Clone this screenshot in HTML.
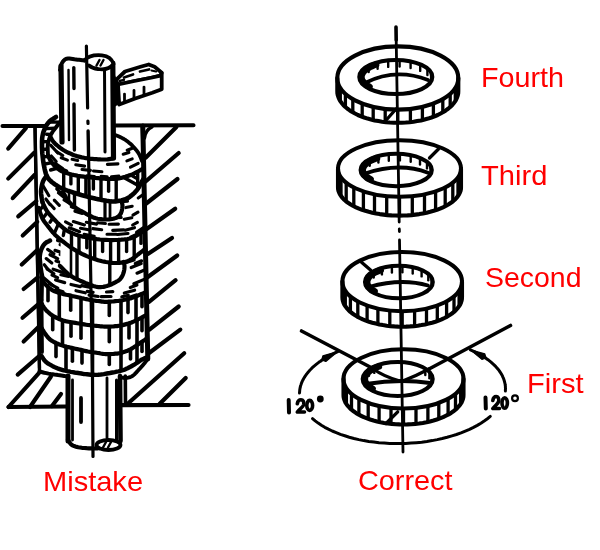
<!DOCTYPE html>
<html><head><meta charset="utf-8"><style>
html,body{margin:0;padding:0;background:#fff;}
body{width:600px;height:550px;overflow:hidden;position:relative;font-family:"Liberation Sans",sans-serif;}
.t{position:absolute;color:#ff0000;font-size:28px;line-height:1;white-space:nowrap;transform-origin:0 0;filter:blur(0.25px);}
svg{position:absolute;left:0;top:0;filter:blur(0.4px);}
</style></head><body>
<svg width="600" height="550" viewBox="0 0 600 550" stroke-linecap="round" stroke-linejoin="round">
<line x1="2.5" y1="126.0" x2="48.0" y2="126.0" stroke="#000" stroke-width="4.10"/>
<line x1="110.0" y1="125.5" x2="193.5" y2="125.2" stroke="#000" stroke-width="4.10"/>
<line x1="35.0" y1="126.0" x2="39.5" y2="368.0" stroke="#000" stroke-width="3.20"/>
<line x1="142.5" y1="126.0" x2="147.8" y2="359.0" stroke="#000" stroke-width="3.60"/>
<line x1="8.2" y1="148.6" x2="25.9" y2="128.2" stroke="#000" stroke-width="4.10"/>
<line x1="8.2" y1="178.6" x2="34.2" y2="152.7" stroke="#000" stroke-width="4.10"/>
<line x1="12.7" y1="198.2" x2="34.5" y2="175.0" stroke="#000" stroke-width="4.10"/>
<line x1="18.2" y1="216.4" x2="36.4" y2="201.0" stroke="#000" stroke-width="4.10"/>
<line x1="22.7" y1="235.5" x2="37.3" y2="221.8" stroke="#000" stroke-width="4.10"/>
<line x1="21.8" y1="264.5" x2="37.3" y2="250.0" stroke="#000" stroke-width="4.10"/>
<line x1="23.6" y1="289.0" x2="37.8" y2="277.3" stroke="#000" stroke-width="4.10"/>
<line x1="22.5" y1="317.8" x2="39.0" y2="303.6" stroke="#000" stroke-width="4.10"/>
<line x1="23.6" y1="341.5" x2="39.5" y2="326.0" stroke="#000" stroke-width="4.10"/>
<line x1="17.7" y1="374.6" x2="39.5" y2="355.7" stroke="#000" stroke-width="4.10"/>
<path d="M144.5,138 Q145.5,130 152,127" fill="none" stroke="#000" stroke-width="3.4"/>
<line x1="145.6" y1="157.8" x2="176.4" y2="127.1" stroke="#000" stroke-width="4.20"/>
<line x1="145.6" y1="181.5" x2="178.7" y2="153.0" stroke="#000" stroke-width="4.20"/>
<line x1="145.6" y1="204.0" x2="177.5" y2="179.0" stroke="#000" stroke-width="4.20"/>
<line x1="147.0" y1="228.7" x2="175.2" y2="208.7" stroke="#000" stroke-width="4.20"/>
<line x1="147.8" y1="254.0" x2="172.0" y2="238.0" stroke="#000" stroke-width="4.20"/>
<line x1="147.8" y1="277.0" x2="177.2" y2="255.5" stroke="#000" stroke-width="4.20"/>
<line x1="149.0" y1="301.8" x2="175.6" y2="280.2" stroke="#000" stroke-width="4.20"/>
<line x1="149.4" y1="329.6" x2="178.7" y2="306.5" stroke="#000" stroke-width="4.20"/>
<line x1="149.4" y1="352.8" x2="180.3" y2="329.6" stroke="#000" stroke-width="4.20"/>
<line x1="128.5" y1="403.0" x2="184.2" y2="353.2" stroke="#000" stroke-width="4.20"/>
<line x1="159.5" y1="404.0" x2="185.7" y2="378.0" stroke="#000" stroke-width="4.20"/>
<line x1="8.5" y1="407.0" x2="40.0" y2="371.8" stroke="#000" stroke-width="4.10"/>
<line x1="30.0" y1="407.0" x2="51.0" y2="376.5" stroke="#000" stroke-width="4.10"/>
<line x1="52.0" y1="406.0" x2="61.0" y2="394.0" stroke="#000" stroke-width="4.10"/>
<line x1="8.5" y1="407.0" x2="66.0" y2="406.5" stroke="#000" stroke-width="4.10"/>
<line x1="121.0" y1="405.2" x2="188.5" y2="405.0" stroke="#000" stroke-width="4.20"/>
<path d="M61.0,64.0 L63.0,61.0 L67.0,58.7 L84.5,60.4 L112.0,62.0 L113.0,160.0 L61.5,160.0 Z" fill="#fff" stroke="none"/>
<path d="M56.0,117.0 L55.2,117.5 L54.0,118.2 L52.6,119.1 L51.2,120.0 L50.0,121.0 L49.0,122.0 L48.0,123.1 L47.1,124.3 L46.3,125.6 L45.5,127.0 L44.8,128.6 L44.1,130.4 L43.4,132.2 L42.9,134.1 L42.5,136.0 L42.2,137.9 L42.1,139.8 L42.0,141.7 L42.0,143.6 L42.0,145.5 L42.0,147.4 L42.1,149.3 L42.2,151.3 L42.3,153.2 L42.5,155.0 L42.7,156.8 L42.9,158.5 L43.1,160.2 L43.3,161.9 L43.6,163.6 L43.9,165.4 L44.3,167.3 L44.7,169.2 L45.1,170.9 L45.5,172.5 L45.9,173.8 L46.4,175.0 L46.8,176.0 L47.4,177.0 L48.0,178.0 L48.7,179.0 L49.5,179.9 L50.4,180.7 L51.3,181.6 L52.4,182.5 L53.6,183.4 L54.9,184.4 L56.3,185.3 L57.7,186.2 L59.0,187.0 L60.2,187.6 L61.3,188.2 L62.4,188.7 L63.4,189.1 L64.4,189.5 L65.3,189.8 L66.0,190.1 L66.8,190.4 L67.6,190.7 L68.7,191.0 L70.0,191.4 L71.5,191.9 L73.1,192.5 L74.7,193.0 L76.4,193.5 L78.0,194.0 L79.7,194.5 L81.3,195.0 L83.1,195.5 L85.0,196.0 L87.1,196.6 L89.3,197.2 L91.6,197.7 L93.9,198.3 L96.0,198.8 L98.0,199.2 L99.8,199.6 L101.6,199.9 L103.4,200.2 L105.0,200.5 L106.5,200.8 L108.0,201.0 L109.4,201.2 L110.7,201.4 L112.0,201.5 L113.2,201.5 L114.4,201.5 L115.5,201.4 L116.7,201.2 L118.0,201.0 L119.5,200.7 L121.2,200.4 L122.8,200.0 L124.5,199.6 L126.0,199.0 L127.3,198.3 L128.6,197.6 L129.8,196.8 L130.9,195.9 L132.0,195.0 L133.1,194.1 L134.2,193.1 L135.2,192.0 L136.1,191.0 L137.0,190.0 L137.7,189.0 L138.3,188.0 L138.9,187.1 L139.4,186.1 L140.0,185.0 L140.7,183.8 L141.5,182.4 L142.3,181.0 L143.0,179.8 L143.5,179.0 L146.0,179.0 L147.8,359.0 L147.8,357.0 L147.0,357.3 L145.9,357.7 L144.6,358.3 L143.3,358.9 L142.0,359.5 L140.8,360.2 L139.7,361.0 L138.5,361.8 L137.3,362.7 L136.0,363.5 L134.7,364.3 L133.3,365.1 L131.8,366.0 L130.4,366.8 L129.0,367.5 L127.6,368.2 L126.3,368.8 L125.0,369.4 L123.6,370.0 L122.0,370.5 L120.3,371.0 L118.6,371.4 L116.8,371.7 L114.8,372.1 L112.5,372.5 L109.9,373.0 L106.9,373.5 L103.8,374.1 L100.8,374.5 L98.0,374.8 L95.5,374.9 L93.2,374.8 L90.9,374.7 L88.9,374.5 L87.0,374.3 L85.4,374.1 L84.0,374.0 L82.8,373.8 L81.5,373.5 L80.0,373.3 L78.3,373.0 L76.4,372.8 L74.5,372.5 L72.6,372.1 L70.7,371.8 L68.9,371.4 L67.1,371.1 L65.4,370.7 L63.7,370.3 L62.0,369.8 L60.4,369.3 L58.9,368.8 L57.4,368.3 L56.0,367.7 L54.4,367.0 L52.7,366.2 L50.9,365.2 L49.1,364.2 L47.4,363.1 L46.0,362.0 L44.8,360.8 L43.7,359.4 L42.8,358.0 L42.0,356.8 L41.5,356.0 L41.5,356.0 L40.0,300.0 L42.0,276.0 L41.9,275.2 L41.7,274.0 L41.4,272.7 L41.2,271.3 L41.0,270.0 L40.8,268.8 L40.6,267.7 L40.5,266.5 L40.3,265.3 L40.2,264.0 L40.1,262.5 L39.9,260.9 L39.8,259.2 L39.7,257.6 L39.8,256.0 L40.0,254.5 L40.2,253.1 L40.6,251.6 L41.0,250.3 L41.5,249.0 L42.1,247.8 L42.7,246.6 L43.4,245.4 L44.2,244.4 L45.0,243.5 L46.0,242.7 L47.1,242.0 L48.3,241.4 L49.3,240.9 L50.0,240.5 L38.5,208.0 L42.5,202.3 L42.2,200.8 L41.8,198.7 L41.4,196.2 L41.1,193.7 L41.0,191.4 L41.2,189.3 L41.5,187.2 L41.9,185.1 L42.4,183.2 L43.0,181.5 L43.7,180.0 L44.5,178.7 L45.3,177.6 L46.0,176.7 L46.5,176.0 Z" fill="#fff" stroke="none"/>
<path d="M61.0,119.0 L61.0,120.5 L57.0,126.0 L52.5,132.0 L49.5,138.0 L47.8,145.0 L48.0,155.6 L48.3,156.3 L48.7,157.2 L49.3,158.3 L49.9,159.4 L50.5,160.5 L51.2,161.5 L51.9,162.6 L52.6,163.7 L53.5,164.7 L54.5,165.8 L55.6,166.9 L56.9,168.0 L58.3,169.1 L59.7,170.1 L61.2,171.0 L62.7,171.7 L64.3,172.3 L65.9,172.9 L67.5,173.3 L69.0,173.8 L70.4,174.2 L71.8,174.6 L73.2,174.9 L74.6,175.2 L76.0,175.5 L77.5,175.8 L78.9,176.0 L80.4,176.3 L82.0,176.5 L83.6,176.7 L85.3,176.9 L87.2,177.1 L89.1,177.3 L90.9,177.4 L92.5,177.6 L93.8,177.7 L94.9,177.9 L95.9,178.0 L97.0,178.1 L98.2,178.2 L99.7,178.3 L101.3,178.5 L102.9,178.6 L104.5,178.7 L106.0,178.8 L107.2,178.9 L108.3,179.0 L109.3,179.0 L110.4,179.0 L111.7,179.0 L113.3,178.9 L115.1,178.8 L117.1,178.6 L119.1,178.3 L121.0,178.0 L123.0,177.5 L125.1,176.9 L127.1,176.3 L129.1,175.6 L130.8,175.0 L132.3,174.4 L133.5,173.8 L134.7,173.2 L135.8,172.6 L137.0,172.0 L138.3,171.3 L139.7,170.5 L141.0,169.7 L142.2,169.0 L143.0,168.5 L143.0,161.0 L142.0,161.0 L141.6,160.0 L141.1,158.7 L140.5,157.1 L139.7,155.4 L139.0,154.0 L138.2,152.7 L137.3,151.5 L136.4,150.2 L135.4,149.1 L134.5,148.0 L133.6,147.0 L132.7,146.1 L131.9,145.2 L131.0,144.3 L130.0,143.5 L129.0,142.7 L128.0,141.8 L126.9,141.0 L125.8,140.2 L124.7,139.5 L123.6,138.8 L122.4,138.2 L121.3,137.6 L120.1,137.0 L119.0,136.5 L117.8,136.0 L116.5,135.5 L115.3,135.1 L114.2,134.8 L113.5,134.5 L113.5,134.5 L113.0,158.5 L113.0,158.5 L112.1,158.7 L110.7,158.9 L109.2,159.1 L107.6,159.4 L106.0,159.5 L104.5,159.5 L103.1,159.5 L101.5,159.5 L99.9,159.4 L98.2,159.3 L96.3,159.2 L94.3,159.1 L92.2,158.9 L90.1,158.8 L88.0,158.5 L85.9,158.2 L83.9,157.8 L81.8,157.4 L79.8,156.9 L77.8,156.4 L75.9,155.8 L74.1,155.2 L72.3,154.5 L70.6,153.7 L69.0,153.0 L67.5,152.3 L66.0,151.6 L64.6,150.8 L63.3,150.0 L61.8,149.0 L61.8,149.0 Z" fill="#fff" stroke="none"/>
<line x1="50.6" y1="145.1" x2="57.8" y2="153.0" stroke="#000" stroke-width="3.10"/>
<line x1="127.2" y1="150.2" x2="133.5" y2="147.7" stroke="#000" stroke-width="3.10"/>
<line x1="56.8" y1="151.7" x2="62.8" y2="155.5" stroke="#000" stroke-width="3.10"/>
<line x1="123.2" y1="154.2" x2="128.9" y2="152.4" stroke="#000" stroke-width="3.10"/>
<line x1="51.3" y1="155.9" x2="56.2" y2="161.6" stroke="#000" stroke-width="3.10"/>
<line x1="61.2" y1="157.8" x2="67.4" y2="160.1" stroke="#000" stroke-width="3.10"/>
<line x1="72.1" y1="159.3" x2="77.7" y2="160.5" stroke="#000" stroke-width="3.10"/>
<line x1="126.9" y1="160.9" x2="132.2" y2="158.9" stroke="#000" stroke-width="3.10"/>
<line x1="55.2" y1="163.3" x2="62.7" y2="168.5" stroke="#000" stroke-width="3.10"/>
<line x1="75.8" y1="164.7" x2="84.6" y2="166.1" stroke="#000" stroke-width="3.10"/>
<line x1="107.4" y1="164.4" x2="117.9" y2="163.9" stroke="#000" stroke-width="3.10"/>
<line x1="130.5" y1="167.2" x2="138.2" y2="163.4" stroke="#000" stroke-width="3.10"/>
<line x1="60.3" y1="168.3" x2="66.7" y2="170.9" stroke="#000" stroke-width="3.10"/>
<line x1="82.0" y1="169.5" x2="90.4" y2="170.4" stroke="#000" stroke-width="3.10"/>
<line x1="93.5" y1="171.0" x2="101.9" y2="171.8" stroke="#000" stroke-width="3.10"/>
<line x1="75.4" y1="175.0" x2="83.2" y2="176.3" stroke="#000" stroke-width="3.10"/>
<line x1="87.1" y1="175.8" x2="94.4" y2="176.5" stroke="#000" stroke-width="3.10"/>
<line x1="101.1" y1="176.3" x2="107.2" y2="176.7" stroke="#000" stroke-width="3.10"/>
<line x1="111.4" y1="176.7" x2="118.9" y2="176.1" stroke="#000" stroke-width="3.10"/>
<line x1="119.8" y1="178.0" x2="130.7" y2="174.7" stroke="#000" stroke-width="3.10"/>
<path d="M56.0,117.0 L55.2,117.5 L54.0,118.2 L52.6,119.1 L51.2,120.0 L50.0,121.0 L49.0,122.0 L48.0,123.1 L47.1,124.3 L46.3,125.6 L45.5,127.0 L44.8,128.6 L44.1,130.4 L43.4,132.2 L42.9,134.1 L42.5,136.0 L42.2,137.9 L42.1,139.8 L42.0,141.7 L42.0,143.6 L42.0,145.5 L42.0,147.4 L42.1,149.3 L42.2,151.3 L42.3,153.2 L42.5,155.0 L42.7,156.8 L42.9,158.5 L43.1,160.2 L43.3,161.9 L43.6,163.6 L43.9,165.4 L44.3,167.3 L44.7,169.2 L45.1,170.9 L45.5,172.5 L45.9,173.8 L46.4,175.0 L46.8,176.0 L47.4,177.0 L48.0,178.0 L48.7,179.0 L49.5,179.9 L50.4,180.7 L51.3,181.6 L52.4,182.5 L53.6,183.4 L54.9,184.4 L56.3,185.3 L57.7,186.2 L59.0,187.0 L60.2,187.6 L61.3,188.2 L62.4,188.7 L63.4,189.1 L64.4,189.5 L65.3,189.8 L66.0,190.1 L66.8,190.4 L67.6,190.7 L68.7,191.0 L70.0,191.4 L71.5,191.9 L73.1,192.5 L74.7,193.0 L76.4,193.5 L78.0,194.0 L79.7,194.5 L81.3,195.0 L83.1,195.5 L85.0,196.0 L87.1,196.6 L89.3,197.2 L91.6,197.7 L93.9,198.3 L96.0,198.8 L98.0,199.2 L99.8,199.6 L101.6,199.9 L103.4,200.2 L105.0,200.5 L106.5,200.8 L108.0,201.0 L109.4,201.2 L110.7,201.4 L112.0,201.5 L113.2,201.5 L114.4,201.5 L115.5,201.4 L116.7,201.2 L118.0,201.0 L119.5,200.7 L121.2,200.4 L122.8,200.0 L124.5,199.6 L126.0,199.0 L127.3,198.3 L128.6,197.6 L129.8,196.8 L130.9,195.9 L132.0,195.0 L133.1,194.1 L134.2,193.1 L135.2,192.0 L136.1,191.0 L137.0,190.0 L137.7,189.0 L138.3,188.0 L138.9,187.1 L139.4,186.1 L140.0,185.0 L140.7,183.8 L141.5,182.4 L142.3,181.0 L143.0,179.8 L143.5,179.0 L143.5,179.0 L143.0,168.5 L142.2,169.0 L141.0,169.7 L139.7,170.5 L138.3,171.3 L137.0,172.0 L135.8,172.6 L134.7,173.2 L133.5,173.8 L132.3,174.4 L130.8,175.0 L129.1,175.6 L127.1,176.3 L125.1,176.9 L123.0,177.5 L121.0,178.0 L119.1,178.3 L117.1,178.6 L115.1,178.8 L113.3,178.9 L111.7,179.0 L110.4,179.0 L109.3,179.0 L108.3,179.0 L107.2,178.9 L106.0,178.8 L104.5,178.7 L102.9,178.6 L101.3,178.5 L99.7,178.3 L98.2,178.2 L97.0,178.1 L95.9,178.0 L94.9,177.9 L93.8,177.7 L92.5,177.6 L90.9,177.4 L89.1,177.3 L87.2,177.1 L85.3,176.9 L83.6,176.7 L82.0,176.5 L80.4,176.3 L78.9,176.0 L77.5,175.8 L76.0,175.5 L74.6,175.2 L73.2,174.9 L71.8,174.6 L70.4,174.2 L69.0,173.8 L67.5,173.3 L65.9,172.9 L64.3,172.3 L62.7,171.7 L61.2,171.0 L59.7,170.1 L58.3,169.1 L56.9,168.0 L55.6,166.9 L54.5,165.8 L53.5,164.7 L52.6,163.7 L51.9,162.6 L51.2,161.5 L50.5,160.5 L49.9,159.4 L49.3,158.3 L48.7,157.2 L48.3,156.3 L48.0,155.6 L48.0,155.6 L47.8,145.0 L49.5,138.0 L52.5,132.0 L57.0,126.0 L61.0,120.5 Z" fill="#fff" stroke="none"/>
<line x1="58.6" y1="122.1" x2="50.2" y2="122.0" stroke="#000" stroke-width="3.40"/>
<line x1="54.1" y1="128.3" x2="46.0" y2="128.6" stroke="#000" stroke-width="3.40"/>
<line x1="49.9" y1="134.5" x2="46.6" y2="134.3" stroke="#000" stroke-width="3.40"/>
<line x1="47.2" y1="141.6" x2="43.2" y2="141.7" stroke="#000" stroke-width="3.40"/>
<line x1="46.5" y1="149.2" x2="44.6" y2="149.3" stroke="#000" stroke-width="3.40"/>
<line x1="47.0" y1="156.5" x2="43.9" y2="156.9" stroke="#000" stroke-width="3.40"/>
<line x1="50.8" y1="162.9" x2="44.9" y2="164.0" stroke="#000" stroke-width="3.40"/>
<line x1="56.0" y1="168.5" x2="50.6" y2="170.0" stroke="#000" stroke-width="3.40"/>
<line x1="63.7" y1="173.3" x2="63.7" y2="188.0" stroke="#000" stroke-width="3.40"/>
<line x1="70.9" y1="175.5" x2="70.9" y2="183.9" stroke="#000" stroke-width="3.40"/>
<line x1="78.3" y1="177.1" x2="78.3" y2="192.9" stroke="#000" stroke-width="3.40"/>
<line x1="85.9" y1="178.2" x2="85.9" y2="195.0" stroke="#000" stroke-width="3.40"/>
<line x1="93.4" y1="178.9" x2="93.4" y2="189.0" stroke="#000" stroke-width="3.40"/>
<line x1="101.0" y1="179.6" x2="101.0" y2="198.6" stroke="#000" stroke-width="3.40"/>
<line x1="108.6" y1="180.2" x2="108.6" y2="191.2" stroke="#000" stroke-width="3.40"/>
<line x1="116.2" y1="179.9" x2="116.2" y2="200.1" stroke="#000" stroke-width="3.40"/>
<line x1="124.7" y1="177.9" x2="138.3" y2="185.5" stroke="#000" stroke-width="3.40"/>
<line x1="131.9" y1="175.6" x2="137.0" y2="178.6" stroke="#000" stroke-width="3.40"/>
<line x1="137.7" y1="172.8" x2="137.7" y2="187.9" stroke="#000" stroke-width="3.40"/>
<path d="M46.5,176.0 L46.0,176.7 L45.3,177.6 L44.5,178.7 L43.7,180.0 L43.0,181.5 L42.4,183.2 L41.9,185.1 L41.5,187.2 L41.2,189.3 L41.0,191.4 L41.1,193.7 L41.4,196.2 L41.8,198.7 L42.2,200.8 L42.5,202.3 L43.1,203.5 L43.8,205.2 L44.8,207.2 L45.8,209.2 L46.9,211.0 L48.1,212.6 L49.4,214.2 L50.8,215.7 L52.2,217.2 L53.5,218.6 L54.8,220.0 L56.1,221.4 L57.3,222.7 L58.6,223.9 L60.0,225.2 L61.4,226.4 L62.9,227.7 L64.4,228.8 L65.9,230.0 L67.6,231.0 L69.4,231.9 L71.3,232.8 L73.3,233.6 L75.2,234.4 L77.0,235.0 L78.6,235.5 L80.0,235.9 L81.4,236.3 L83.0,236.6 L85.0,237.0 L87.6,237.5 L90.5,238.1 L93.7,238.6 L96.9,239.1 L100.0,239.5 L103.0,239.8 L106.0,239.9 L109.0,240.0 L112.0,240.1 L115.0,240.0 L118.1,239.9 L121.3,239.7 L124.4,239.4 L127.4,239.0 L130.0,238.5 L132.2,237.8 L134.2,236.9 L135.9,235.9 L137.5,234.9 L139.0,234.0 L140.4,233.1 L141.7,232.2 L142.9,231.3 L143.8,230.5 L144.5,230.0 L144.5,230.0 L143.5,179.0 L143.5,179.0 L143.0,179.8 L142.3,181.0 L141.5,182.4 L140.7,183.8 L140.0,185.0 L139.4,186.1 L138.9,187.1 L138.3,188.0 L137.7,189.0 L137.0,190.0 L136.1,191.0 L135.2,192.0 L134.2,193.1 L133.1,194.1 L132.0,195.0 L130.9,195.9 L129.8,196.8 L128.6,197.6 L127.3,198.3 L126.0,199.0 L124.5,199.6 L122.8,200.0 L121.2,200.4 L119.5,200.7 L118.0,201.0 L116.7,201.2 L115.5,201.4 L114.4,201.5 L113.2,201.5 L112.0,201.5 L110.7,201.4 L109.4,201.2 L108.0,201.0 L106.5,200.8 L105.0,200.5 L103.4,200.2 L101.6,199.9 L99.8,199.6 L98.0,199.2 L96.0,198.8 L93.9,198.3 L91.6,197.7 L89.3,197.2 L87.1,196.6 L85.0,196.0 L83.1,195.5 L81.3,195.0 L79.7,194.5 L78.0,194.0 L76.4,193.5 L74.7,193.0 L73.1,192.5 L71.5,191.9 L70.0,191.4 L68.7,191.0 L67.6,190.7 L66.8,190.4 L66.0,190.1 L65.3,189.8 L64.4,189.5 L63.4,189.1 L62.4,188.7 L61.3,188.2 L60.2,187.6 L59.0,187.0 L57.7,186.2 L56.3,185.3 L54.9,184.4 L53.6,183.4 L52.4,182.5 L51.3,181.6 L50.4,180.7 L49.5,179.9 L48.7,179.0 L48.0,178.0 L47.4,177.0 L46.8,176.0 L46.4,175.0 L45.9,173.8 L45.5,172.5 Z" fill="#fff" stroke="none"/>
<line x1="43.2" y1="186.0" x2="48.9" y2="195.7" stroke="#000" stroke-width="3.10"/>
<line x1="56.7" y1="189.0" x2="61.0" y2="193.1" stroke="#000" stroke-width="3.10"/>
<line x1="58.4" y1="192.9" x2="67.5" y2="200.2" stroke="#000" stroke-width="3.10"/>
<line x1="138.2" y1="198.0" x2="142.9" y2="194.8" stroke="#000" stroke-width="3.10"/>
<line x1="45.9" y1="199.0" x2="49.9" y2="204.5" stroke="#000" stroke-width="3.10"/>
<line x1="54.3" y1="200.2" x2="59.3" y2="205.3" stroke="#000" stroke-width="3.10"/>
<line x1="64.0" y1="200.0" x2="70.5" y2="203.9" stroke="#000" stroke-width="3.10"/>
<line x1="96.2" y1="201.0" x2="104.0" y2="201.8" stroke="#000" stroke-width="3.10"/>
<line x1="109.8" y1="202.5" x2="116.7" y2="202.4" stroke="#000" stroke-width="3.10"/>
<line x1="117.9" y1="202.0" x2="127.5" y2="201.1" stroke="#000" stroke-width="3.10"/>
<line x1="50.4" y1="204.5" x2="54.2" y2="208.6" stroke="#000" stroke-width="3.10"/>
<line x1="71.3" y1="206.7" x2="79.6" y2="209.7" stroke="#000" stroke-width="3.10"/>
<line x1="92.3" y1="205.9" x2="101.6" y2="207.2" stroke="#000" stroke-width="3.10"/>
<line x1="125.9" y1="207.6" x2="132.2" y2="206.2" stroke="#000" stroke-width="3.10"/>
<line x1="74.9" y1="211.2" x2="82.3" y2="213.4" stroke="#000" stroke-width="3.10"/>
<line x1="132.9" y1="215.1" x2="138.0" y2="212.2" stroke="#000" stroke-width="3.10"/>
<line x1="93.0" y1="217.7" x2="99.9" y2="218.6" stroke="#000" stroke-width="3.10"/>
<line x1="102.9" y1="219.2" x2="108.4" y2="219.5" stroke="#000" stroke-width="3.10"/>
<line x1="113.7" y1="217.9" x2="121.2" y2="217.5" stroke="#000" stroke-width="3.10"/>
<line x1="124.3" y1="219.2" x2="131.8" y2="217.7" stroke="#000" stroke-width="3.10"/>
<line x1="65.5" y1="221.8" x2="71.6" y2="225.1" stroke="#000" stroke-width="3.10"/>
<line x1="73.3" y1="221.6" x2="84.5" y2="224.9" stroke="#000" stroke-width="3.10"/>
<line x1="86.3" y1="222.3" x2="96.6" y2="224.1" stroke="#000" stroke-width="3.10"/>
<line x1="97.6" y1="222.8" x2="105.4" y2="223.5" stroke="#000" stroke-width="3.10"/>
<line x1="109.1" y1="224.3" x2="118.4" y2="224.1" stroke="#000" stroke-width="3.10"/>
<line x1="132.6" y1="225.0" x2="137.4" y2="222.4" stroke="#000" stroke-width="3.10"/>
<line x1="69.2" y1="227.8" x2="79.6" y2="231.7" stroke="#000" stroke-width="3.10"/>
<line x1="80.5" y1="228.2" x2="90.0" y2="230.1" stroke="#000" stroke-width="3.10"/>
<line x1="92.9" y1="228.6" x2="101.7" y2="229.8" stroke="#000" stroke-width="3.10"/>
<line x1="112.7" y1="230.4" x2="123.6" y2="229.9" stroke="#000" stroke-width="3.10"/>
<line x1="125.2" y1="230.2" x2="134.5" y2="227.7" stroke="#000" stroke-width="3.10"/>
<line x1="136.5" y1="232.2" x2="143.9" y2="227.2" stroke="#000" stroke-width="3.10"/>
<line x1="84.1" y1="234.3" x2="94.2" y2="236.2" stroke="#000" stroke-width="3.10"/>
<line x1="107.0" y1="234.3" x2="116.4" y2="234.2" stroke="#000" stroke-width="3.10"/>
<line x1="117.6" y1="234.5" x2="128.0" y2="233.5" stroke="#000" stroke-width="3.10"/>
<line x1="130.6" y1="237.2" x2="136.4" y2="234.5" stroke="#000" stroke-width="3.10"/>
<path d="M61.3,188.2 L62.4,188.7 L63.4,189.1 L64.4,189.5 L65.3,189.8 L66.0,190.1 L66.8,190.4 L67.6,190.7 L68.7,191.0 L70.0,191.4 L71.5,191.9 L73.1,192.5 L74.7,193.0 L76.4,193.5 L78.0,194.0 L79.7,194.5 L81.3,195.0 L83.1,195.5 L85.0,196.0 L87.1,196.6 L89.3,197.2 L91.6,197.7 L93.9,198.3 L96.0,198.8 L98.0,199.2 L99.8,199.6 L101.6,199.9 L103.4,200.2 L105.0,200.5 L106.5,200.8 L108.0,201.0 L109.4,201.2 L110.7,201.4 L112.0,201.5 L113.2,201.5 L114.4,201.5 L115.5,201.4 L116.7,201.2 L118.0,201.0 L119.5,200.7 L121.2,200.4 L121.5,201.0 L121.7,201.6 L121.9,202.5 L122.2,203.6 L122.4,204.8 L122.5,206.0 L122.4,207.3 L122.2,208.8 L121.9,210.3 L121.5,211.8 L121.0,213.0 L120.5,214.0 L119.8,214.9 L119.1,215.7 L118.4,216.4 L117.5,217.0 L116.6,217.6 L115.6,218.0 L114.5,218.4 L113.3,218.7 L112.0,219.0 L110.6,219.2 L109.0,219.4 L107.3,219.5 L105.6,219.5 L104.0,219.5 L102.4,219.4 L100.8,219.2 L99.2,219.0 L97.6,218.7 L96.0,218.3 L94.4,217.8 L92.8,217.1 L91.3,216.4 L89.8,215.7 L88.4,215.0 L87.2,214.4 L86.1,213.8 L85.1,213.2 L84.1,212.6 L83.0,212.0 L81.9,211.4 L80.8,210.8 L79.7,210.3 L78.6,209.7 L77.5,209.0 L76.4,208.3 L75.3,207.6 L74.2,206.8 L73.1,205.9 L72.0,205.0 L71.0,203.9 L69.9,202.8 L68.9,201.6 L67.9,200.3 L67.0,199.0 L66.1,197.6 L65.1,195.9 L64.3,194.3 L63.5,193.0 L63.0,192.0 Z" fill="#fff" stroke="none"/>
<line x1="69.0" y1="191.1" x2="69.0" y2="201.7" stroke="#000" stroke-width="2.60"/>
<line x1="74.5" y1="192.9" x2="74.5" y2="207.0" stroke="#000" stroke-width="3.40"/>
<line x1="105.0" y1="200.5" x2="105.0" y2="219.5" stroke="#000" stroke-width="3.20"/>
<line x1="110.0" y1="201.3" x2="110.0" y2="219.3" stroke="#000" stroke-width="2.80"/>
<path d="M42.5,202.3 L43.1,203.5 L43.8,205.2 L44.8,207.2 L45.8,209.2 L46.9,211.0 L48.1,212.6 L49.4,214.2 L50.8,215.7 L52.2,217.2 L53.5,218.6 L54.8,220.0 L56.1,221.4 L57.3,222.7 L58.6,223.9 L60.0,225.2 L61.4,226.4 L62.9,227.7 L64.4,228.8 L65.9,230.0 L67.6,231.0 L69.4,231.9 L71.3,232.8 L73.3,233.6 L75.2,234.4 L77.0,235.0 L78.6,235.5 L80.0,235.9 L81.4,236.3 L83.0,236.6 L85.0,237.0 L87.6,237.5 L90.5,238.1 L93.7,238.6 L96.9,239.1 L100.0,239.5 L103.0,239.8 L106.0,239.9 L109.0,240.0 L112.0,240.1 L115.0,240.0 L118.1,239.9 L121.3,239.7 L124.4,239.4 L127.4,239.0 L130.0,238.5 L132.2,237.8 L134.2,236.9 L135.9,235.9 L137.5,234.9 L139.0,234.0 L140.4,233.1 L141.7,232.2 L142.9,231.3 L143.8,230.5 L144.5,230.0 L145.0,248.0 L145.0,249.0 L144.0,249.8 L142.7,250.9 L141.1,252.1 L139.4,253.4 L138.0,254.5 L136.8,255.5 L135.6,256.4 L134.4,257.4 L133.2,258.2 L132.0,259.0 L130.7,259.7 L129.4,260.4 L128.1,261.0 L126.6,261.6 L125.0,262.0 L123.2,262.4 L121.2,262.6 L119.1,262.8 L117.0,263.0 L115.0,263.0 L113.2,263.0 L111.4,262.8 L109.6,262.6 L107.8,262.3 L106.0,262.0 L104.1,261.6 L102.1,261.2 L100.2,260.7 L98.1,260.2 L96.0,259.5 L93.8,258.8 L91.5,258.0 L89.2,257.1 L86.8,256.1 L84.4,255.0 L81.8,253.8 L79.2,252.4 L76.5,250.9 L73.9,249.4 L71.6,248.0 L69.6,246.6 L67.7,245.2 L66.0,243.9 L64.4,242.6 L63.0,241.5 L61.8,240.6 L60.8,239.8 L59.9,239.1 L59.0,238.4 L58.0,237.5 L56.9,236.5 L55.8,235.5 L54.7,234.4 L53.6,233.2 L52.5,232.0 L51.4,230.7 L50.3,229.3 L49.1,227.8 L48.0,226.4 L47.0,225.0 L46.0,223.7 L45.1,222.6 L44.2,221.4 L43.4,220.1 L42.5,218.6 L41.6,216.6 L40.7,214.2 L39.8,211.7 L39.0,209.5 L38.5,208.0 Z" fill="#fff" stroke="none"/>
<line x1="43.0" y1="206.0" x2="40.2" y2="209.8" stroke="#000" stroke-width="3.40"/>
<line x1="46.9" y1="213.0" x2="43.3" y2="217.8" stroke="#000" stroke-width="3.40"/>
<line x1="52.2" y1="219.0" x2="50.0" y2="222.2" stroke="#000" stroke-width="3.40"/>
<line x1="58.0" y1="224.9" x2="54.6" y2="232.6" stroke="#000" stroke-width="3.40"/>
<line x1="64.3" y1="230.1" x2="63.3" y2="235.5" stroke="#000" stroke-width="3.40"/>
<line x1="71.5" y1="234.1" x2="71.5" y2="246.7" stroke="#000" stroke-width="3.40"/>
<line x1="79.0" y1="236.8" x2="79.0" y2="251.1" stroke="#000" stroke-width="3.40"/>
<line x1="86.8" y1="238.6" x2="86.8" y2="247.7" stroke="#000" stroke-width="3.40"/>
<line x1="94.7" y1="240.0" x2="94.7" y2="257.9" stroke="#000" stroke-width="3.40"/>
<line x1="102.6" y1="240.9" x2="102.6" y2="251.6" stroke="#000" stroke-width="3.40"/>
<line x1="110.6" y1="241.3" x2="110.6" y2="261.5" stroke="#000" stroke-width="3.40"/>
<line x1="118.6" y1="241.0" x2="118.6" y2="261.7" stroke="#000" stroke-width="3.40"/>
<line x1="126.6" y1="240.3" x2="126.6" y2="251.5" stroke="#000" stroke-width="3.40"/>
<line x1="134.2" y1="238.1" x2="134.2" y2="256.3" stroke="#000" stroke-width="3.40"/>
<line x1="141.0" y1="233.9" x2="141.0" y2="243.4" stroke="#000" stroke-width="3.40"/>
<path d="M50.0,240.5 L49.3,240.9 L48.3,241.4 L47.1,242.0 L46.0,242.7 L45.0,243.5 L44.2,244.4 L43.4,245.4 L42.7,246.6 L42.1,247.8 L41.5,249.0 L41.0,250.3 L40.6,251.6 L40.2,253.1 L40.0,254.5 L39.8,256.0 L39.7,257.6 L39.8,259.2 L39.9,260.9 L40.1,262.5 L40.2,264.0 L40.3,265.3 L40.5,266.5 L40.6,267.7 L40.8,268.8 L41.0,270.0 L41.2,271.3 L41.4,272.7 L41.7,274.0 L41.9,275.2 L42.0,276.0 L42.2,276.9 L42.5,278.2 L42.9,279.7 L43.4,281.2 L44.0,282.5 L44.8,283.6 L45.7,284.7 L46.6,285.7 L47.7,286.6 L48.7,287.5 L49.7,288.3 L50.7,289.1 L51.7,289.7 L52.8,290.4 L54.0,291.0 L55.3,291.6 L56.7,292.1 L58.1,292.6 L59.6,293.1 L61.0,293.5 L62.3,293.8 L63.5,294.1 L64.8,294.4 L66.2,294.7 L67.8,295.0 L69.8,295.4 L72.1,296.0 L74.5,296.5 L76.8,297.0 L79.0,297.5 L80.9,297.9 L82.7,298.4 L84.4,298.8 L86.2,299.1 L88.0,299.5 L90.0,299.8 L92.1,300.2 L94.2,300.5 L96.2,300.8 L98.0,301.0 L99.5,301.2 L100.8,301.4 L101.9,301.6 L103.1,301.7 L104.4,301.8 L105.8,301.8 L107.3,301.8 L108.8,301.7 L110.4,301.6 L112.0,301.5 L113.7,301.4 L115.4,301.2 L117.1,301.0 L118.9,300.8 L120.7,300.5 L122.6,300.2 L124.5,299.8 L126.4,299.4 L128.3,298.9 L130.0,298.5 L131.5,298.1 L132.9,297.6 L134.2,297.1 L135.5,296.6 L137.0,296.0 L138.8,295.2 L140.9,294.3 L143.0,293.4 L144.7,292.6 L146.0,292.0 L146.0,292.0 L145.0,248.0 L145.0,249.0 L144.0,249.8 L142.7,250.9 L141.1,252.1 L139.4,253.4 L138.0,254.5 L136.8,255.5 L135.6,256.4 L134.4,257.4 L133.2,258.2 L132.0,259.0 L130.7,259.7 L129.4,260.4 L128.1,261.0 L126.6,261.6 L125.0,262.0 L123.2,262.4 L121.2,262.6 L119.1,262.8 L117.0,263.0 L115.0,263.0 L113.2,263.0 L111.4,262.8 L109.6,262.6 L107.8,262.3 L106.0,262.0 L104.1,261.6 L102.1,261.2 L100.2,260.7 L98.1,260.2 L96.0,259.5 L93.8,258.8 L91.5,258.0 L89.2,257.1 L86.8,256.1 L84.4,255.0 L81.8,253.8 L79.2,252.4 L76.5,250.9 L73.9,249.4 L71.6,248.0 L69.6,246.6 L67.7,245.2 L66.0,243.9 L64.4,242.6 L63.0,241.5 L61.8,240.6 L60.8,239.8 L59.9,239.1 L59.0,238.4 L58.0,237.5 L56.9,236.5 L55.8,235.5 L54.7,234.4 L53.6,233.2 L52.5,232.0 L51.4,230.7 L50.3,229.3 Z" fill="#fff" stroke="none"/>
<line x1="57.5" y1="240.5" x2="63.7" y2="242.3" stroke="#000" stroke-width="3.20"/>
<line x1="60.1" y1="244.7" x2="68.7" y2="246.6" stroke="#000" stroke-width="3.20"/>
<line x1="47.6" y1="249.4" x2="53.9" y2="253.8" stroke="#000" stroke-width="3.20"/>
<line x1="55.0" y1="250.4" x2="63.9" y2="253.2" stroke="#000" stroke-width="3.20"/>
<line x1="66.9" y1="249.6" x2="74.6" y2="251.4" stroke="#000" stroke-width="3.20"/>
<line x1="50.0" y1="254.7" x2="57.7" y2="258.6" stroke="#000" stroke-width="3.20"/>
<line x1="60.2" y1="254.5" x2="68.9" y2="256.4" stroke="#000" stroke-width="3.20"/>
<line x1="70.8" y1="255.4" x2="79.8" y2="257.4" stroke="#000" stroke-width="3.20"/>
<line x1="78.5" y1="255.8" x2="89.8" y2="258.3" stroke="#000" stroke-width="3.20"/>
<line x1="46.2" y1="258.6" x2="51.8" y2="263.1" stroke="#000" stroke-width="3.20"/>
<line x1="56.0" y1="261.0" x2="62.1" y2="263.0" stroke="#000" stroke-width="3.20"/>
<line x1="65.4" y1="259.6" x2="73.8" y2="261.5" stroke="#000" stroke-width="3.20"/>
<line x1="86.0" y1="261.7" x2="91.9" y2="262.8" stroke="#000" stroke-width="3.20"/>
<line x1="126.8" y1="262.1" x2="134.1" y2="260.0" stroke="#000" stroke-width="3.20"/>
<line x1="135.3" y1="263.5" x2="141.6" y2="260.8" stroke="#000" stroke-width="3.20"/>
<line x1="44.3" y1="264.8" x2="48.0" y2="269.4" stroke="#000" stroke-width="3.20"/>
<line x1="59.4" y1="265.6" x2="69.9" y2="267.8" stroke="#000" stroke-width="3.20"/>
<line x1="71.9" y1="265.6" x2="79.5" y2="267.3" stroke="#000" stroke-width="3.20"/>
<line x1="89.0" y1="265.4" x2="98.7" y2="266.8" stroke="#000" stroke-width="3.20"/>
<line x1="100.8" y1="266.9" x2="108.9" y2="267.1" stroke="#000" stroke-width="3.20"/>
<line x1="131.2" y1="267.6" x2="141.2" y2="263.5" stroke="#000" stroke-width="3.20"/>
<line x1="47.1" y1="268.9" x2="53.9" y2="273.8" stroke="#000" stroke-width="3.20"/>
<line x1="53.1" y1="269.2" x2="63.7" y2="272.7" stroke="#000" stroke-width="3.20"/>
<line x1="66.2" y1="270.3" x2="73.8" y2="272.0" stroke="#000" stroke-width="3.20"/>
<line x1="74.8" y1="269.9" x2="85.7" y2="272.4" stroke="#000" stroke-width="3.20"/>
<line x1="85.1" y1="271.4" x2="94.8" y2="273.0" stroke="#000" stroke-width="3.20"/>
<line x1="108.1" y1="271.8" x2="114.2" y2="271.4" stroke="#000" stroke-width="3.20"/>
<line x1="117.8" y1="271.6" x2="123.8" y2="270.6" stroke="#000" stroke-width="3.20"/>
<line x1="137.0" y1="273.2" x2="143.9" y2="270.2" stroke="#000" stroke-width="3.20"/>
<line x1="52.0" y1="275.1" x2="57.6" y2="277.6" stroke="#000" stroke-width="3.20"/>
<line x1="60.9" y1="274.8" x2="68.5" y2="276.4" stroke="#000" stroke-width="3.20"/>
<line x1="70.6" y1="275.8" x2="79.6" y2="277.8" stroke="#000" stroke-width="3.20"/>
<line x1="89.4" y1="275.2" x2="98.7" y2="276.5" stroke="#000" stroke-width="3.20"/>
<line x1="107.5" y1="277.4" x2="119.1" y2="276.3" stroke="#000" stroke-width="3.20"/>
<line x1="43.9" y1="278.0" x2="53.1" y2="285.8" stroke="#000" stroke-width="3.20"/>
<line x1="55.6" y1="280.0" x2="64.7" y2="282.6" stroke="#000" stroke-width="3.20"/>
<line x1="84.9" y1="281.3" x2="92.0" y2="282.6" stroke="#000" stroke-width="3.20"/>
<line x1="92.4" y1="280.7" x2="104.5" y2="282.5" stroke="#000" stroke-width="3.20"/>
<line x1="133.9" y1="283.8" x2="144.7" y2="279.1" stroke="#000" stroke-width="3.20"/>
<line x1="49.2" y1="283.7" x2="57.8" y2="288.2" stroke="#000" stroke-width="3.20"/>
<line x1="71.0" y1="284.5" x2="80.3" y2="286.6" stroke="#000" stroke-width="3.20"/>
<line x1="81.7" y1="285.6" x2="90.6" y2="287.4" stroke="#000" stroke-width="3.20"/>
<line x1="90.9" y1="285.6" x2="100.4" y2="287.0" stroke="#000" stroke-width="3.20"/>
<line x1="130.3" y1="287.5" x2="136.9" y2="285.1" stroke="#000" stroke-width="3.20"/>
<line x1="56.1" y1="289.5" x2="63.1" y2="291.7" stroke="#000" stroke-width="3.20"/>
<line x1="76.0" y1="290.7" x2="85.2" y2="292.8" stroke="#000" stroke-width="3.20"/>
<line x1="87.2" y1="291.3" x2="93.1" y2="292.3" stroke="#000" stroke-width="3.20"/>
<line x1="106.5" y1="292.0" x2="112.8" y2="291.6" stroke="#000" stroke-width="3.20"/>
<line x1="124.3" y1="293.0" x2="134.6" y2="290.2" stroke="#000" stroke-width="3.20"/>
<line x1="89.1" y1="295.2" x2="98.2" y2="296.5" stroke="#000" stroke-width="3.20"/>
<line x1="101.2" y1="296.6" x2="111.0" y2="296.5" stroke="#000" stroke-width="3.20"/>
<line x1="121.8" y1="296.8" x2="128.3" y2="295.4" stroke="#000" stroke-width="3.20"/>
<line x1="130.3" y1="297.0" x2="136.2" y2="294.9" stroke="#000" stroke-width="3.20"/>
<path d="M60.8,239.8 L61.8,240.6 L63.0,241.5 L64.4,242.6 L66.0,243.9 L67.7,245.2 L69.6,246.6 L71.6,248.0 L73.9,249.4 L76.5,250.9 L79.2,252.4 L81.8,253.8 L84.4,255.0 L86.8,256.1 L89.2,257.1 L91.5,258.0 L93.8,258.8 L96.0,259.5 L98.1,260.2 L100.2,260.7 L102.1,261.2 L104.1,261.6 L106.0,262.0 L107.8,262.3 L109.6,262.6 L111.4,262.8 L113.2,263.0 L115.0,263.0 L117.0,263.0 L119.1,262.8 L121.2,262.6 L123.2,262.4 L123.5,262.0 L123.7,262.5 L123.9,263.2 L124.2,264.0 L124.4,264.9 L124.5,266.0 L124.5,267.2 L124.4,268.6 L124.2,270.1 L123.9,271.6 L123.5,273.0 L123.0,274.3 L122.4,275.7 L121.7,277.0 L120.9,278.2 L120.0,279.3 L119.0,280.2 L117.8,281.0 L116.5,281.7 L115.2,282.4 L114.0,283.0 L112.8,283.6 L111.7,284.2 L110.5,284.7 L109.4,285.2 L108.2,285.6 L107.0,286.0 L105.8,286.3 L104.5,286.6 L103.3,286.9 L102.0,287.0 L100.8,287.1 L99.7,287.1 L98.5,287.1 L97.1,286.9 L95.4,286.5 L93.3,285.9 L90.8,285.0 L88.1,284.0 L85.3,282.9 L82.7,281.8 L80.1,280.7 L77.5,279.5 L74.9,278.3 L72.4,276.9 L70.0,275.4 L67.7,273.6 L65.3,271.4 L63.2,269.2 L61.3,267.3 L60.0,266.0 Z" fill="#fff" stroke="none"/>
<line x1="71.0" y1="247.6" x2="71.0" y2="276.0" stroke="#000" stroke-width="2.60"/>
<line x1="77.0" y1="251.2" x2="77.0" y2="279.3" stroke="#000" stroke-width="3.40"/>
<line x1="109.8" y1="262.6" x2="109.8" y2="285.0" stroke="#000" stroke-width="3.40"/>
<path d="M42.0,276.0 L42.2,276.9 L42.5,278.2 L42.9,279.7 L43.4,281.2 L44.0,282.5 L44.8,283.6 L45.7,284.7 L46.6,285.7 L47.7,286.6 L48.7,287.5 L49.7,288.3 L50.7,289.1 L51.7,289.7 L52.8,290.4 L54.0,291.0 L55.3,291.6 L56.7,292.1 L58.1,292.6 L59.6,293.1 L61.0,293.5 L62.3,293.8 L63.5,294.1 L64.8,294.4 L66.2,294.7 L67.8,295.0 L69.8,295.4 L72.1,296.0 L74.5,296.5 L76.8,297.0 L79.0,297.5 L80.9,297.9 L82.7,298.4 L84.4,298.8 L86.2,299.1 L88.0,299.5 L90.0,299.8 L92.1,300.2 L94.2,300.5 L96.2,300.8 L98.0,301.0 L99.5,301.2 L100.8,301.4 L101.9,301.6 L103.1,301.7 L104.4,301.8 L105.8,301.8 L107.3,301.8 L108.8,301.7 L110.4,301.6 L112.0,301.5 L113.7,301.4 L115.4,301.2 L117.1,301.0 L118.9,300.8 L120.7,300.5 L122.6,300.2 L124.5,299.8 L126.4,299.4 L128.3,298.9 L130.0,298.5 L131.5,298.1 L132.9,297.6 L134.2,297.1 L135.5,296.6 L137.0,296.0 L138.8,295.2 L140.9,294.3 L143.0,293.4 L144.7,292.6 L146.0,292.0 L148.0,317.0 L146.5,315.0 L145.2,315.7 L143.3,316.7 L141.1,317.9 L138.9,319.0 L137.0,320.0 L135.5,320.7 L134.1,321.4 L132.8,321.9 L131.5,322.5 L130.0,323.0 L128.3,323.6 L126.4,324.1 L124.5,324.6 L122.6,325.1 L120.7,325.5 L118.9,325.8 L117.1,326.1 L115.4,326.2 L113.7,326.4 L112.0,326.5 L110.4,326.6 L108.8,326.6 L107.3,326.7 L105.8,326.6 L104.4,326.6 L103.1,326.5 L101.9,326.4 L100.8,326.3 L99.5,326.2 L98.0,326.0 L96.2,325.8 L94.2,325.7 L92.1,325.5 L90.0,325.2 L88.0,325.0 L86.1,324.7 L84.3,324.4 L82.6,324.1 L80.8,323.8 L79.0,323.5 L77.2,323.2 L75.3,322.9 L73.5,322.6 L71.7,322.3 L70.0,322.0 L68.4,321.7 L66.8,321.4 L65.4,321.1 L63.9,320.7 L62.5,320.3 L61.1,319.8 L59.8,319.3 L58.4,318.7 L57.2,318.1 L56.0,317.5 L54.9,317.0 L53.9,316.4 L53.0,315.9 L52.0,315.3 L51.0,314.5 L49.8,313.6 L48.6,312.5 L47.3,311.4 L46.1,310.2 L45.0,309.0 L44.1,307.7 L43.2,306.3 L42.4,305.0 L41.8,303.8 L41.3,303.0 Z" fill="#fff" stroke="none"/>
<line x1="59.3" y1="294.2" x2="59.3" y2="317.9" stroke="#000" stroke-width="3.60"/>
<line x1="81.0" y1="299.2" x2="81.0" y2="322.6" stroke="#000" stroke-width="3.60"/>
<line x1="92.5" y1="301.4" x2="92.5" y2="324.3" stroke="#000" stroke-width="3.60"/>
<line x1="121.0" y1="301.6" x2="121.0" y2="324.2" stroke="#000" stroke-width="3.60"/>
<line x1="136.0" y1="297.6" x2="136.0" y2="319.3" stroke="#000" stroke-width="3.60"/>
<line x1="48.0" y1="288.1" x2="48.0" y2="300.7" stroke="#000" stroke-width="3.60"/>
<line x1="70.7" y1="296.8" x2="70.7" y2="310.2" stroke="#000" stroke-width="3.60"/>
<line x1="109.3" y1="302.9" x2="109.3" y2="315.4" stroke="#000" stroke-width="3.60"/>
<line x1="128.0" y1="300.2" x2="128.0" y2="312.6" stroke="#000" stroke-width="3.60"/>
<line x1="142.0" y1="295.0" x2="142.0" y2="306.8" stroke="#000" stroke-width="3.60"/>
<path d="M41.3,303.0 L41.8,303.8 L42.4,305.0 L43.2,306.3 L44.1,307.7 L45.0,309.0 L46.1,310.2 L47.3,311.4 L48.6,312.5 L49.8,313.6 L51.0,314.5 L52.0,315.3 L53.0,315.9 L53.9,316.4 L54.9,317.0 L56.0,317.5 L57.2,318.1 L58.4,318.7 L59.8,319.3 L61.1,319.8 L62.5,320.3 L63.9,320.7 L65.4,321.1 L66.8,321.4 L68.4,321.7 L70.0,322.0 L71.7,322.3 L73.5,322.6 L75.3,322.9 L77.2,323.2 L79.0,323.5 L80.8,323.8 L82.6,324.1 L84.3,324.4 L86.1,324.7 L88.0,325.0 L90.0,325.2 L92.1,325.5 L94.2,325.7 L96.2,325.8 L98.0,326.0 L99.5,326.2 L100.8,326.3 L101.9,326.4 L103.1,326.5 L104.4,326.6 L105.8,326.6 L107.3,326.7 L108.8,326.6 L110.4,326.6 L112.0,326.5 L113.7,326.4 L115.4,326.2 L117.1,326.1 L118.9,325.8 L120.7,325.5 L122.6,325.1 L124.5,324.6 L126.4,324.1 L128.3,323.6 L130.0,323.0 L131.5,322.5 L132.8,321.9 L134.1,321.4 L135.5,320.7 L137.0,320.0 L138.9,319.0 L141.1,317.9 L143.3,316.7 L145.2,315.7 L146.5,315.0 L148.0,340.0 L147.0,338.5 L146.0,339.1 L144.7,340.0 L143.1,341.0 L141.5,342.0 L140.0,343.0 L138.7,343.9 L137.4,344.8 L136.2,345.7 L135.0,346.5 L133.8,347.3 L132.6,348.0 L131.5,348.7 L130.4,349.3 L129.2,349.9 L128.0,350.5 L126.7,351.1 L125.3,351.6 L123.8,352.1 L122.3,352.6 L120.7,353.0 L119.0,353.3 L117.3,353.6 L115.5,353.7 L113.7,353.9 L112.0,354.0 L110.4,354.1 L108.8,354.1 L107.3,354.1 L105.8,354.1 L104.4,354.0 L103.1,353.9 L101.9,353.7 L100.8,353.5 L99.5,353.2 L98.0,353.0 L96.2,352.7 L94.2,352.5 L92.1,352.2 L90.0,351.8 L88.0,351.5 L86.1,351.1 L84.3,350.7 L82.6,350.3 L80.8,349.9 L79.0,349.5 L77.2,349.1 L75.3,348.7 L73.5,348.3 L71.7,347.9 L70.0,347.5 L68.4,347.1 L66.9,346.8 L65.4,346.4 L64.0,346.1 L62.5,345.6 L61.0,345.1 L59.4,344.5 L57.9,343.8 L56.4,343.2 L55.0,342.5 L53.8,341.9 L52.6,341.2 L51.5,340.6 L50.5,339.8 L49.5,339.0 L48.5,338.0 L47.6,337.0 L46.7,335.8 L45.8,334.7 L45.0,333.5 L44.1,332.3 L43.3,330.9 L42.5,329.6 L41.8,328.4 L41.3,327.6 Z" fill="#fff" stroke="none"/>
<line x1="62.5" y1="321.5" x2="62.5" y2="344.4" stroke="#000" stroke-width="3.60"/>
<line x1="92.5" y1="326.7" x2="92.5" y2="351.0" stroke="#000" stroke-width="3.60"/>
<line x1="121.0" y1="326.6" x2="121.0" y2="351.7" stroke="#000" stroke-width="3.60"/>
<line x1="137.0" y1="321.2" x2="137.0" y2="343.9" stroke="#000" stroke-width="3.60"/>
<line x1="52.7" y1="316.9" x2="52.7" y2="329.8" stroke="#000" stroke-width="3.60"/>
<line x1="71.0" y1="323.4" x2="71.0" y2="336.2" stroke="#000" stroke-width="3.60"/>
<line x1="81.0" y1="325.0" x2="81.0" y2="338.2" stroke="#000" stroke-width="3.60"/>
<line x1="109.3" y1="327.8" x2="109.3" y2="341.7" stroke="#000" stroke-width="3.60"/>
<line x1="129.0" y1="324.5" x2="129.0" y2="338.0" stroke="#000" stroke-width="3.60"/>
<line x1="142.0" y1="318.6" x2="142.0" y2="330.8" stroke="#000" stroke-width="3.60"/>
<path d="M41.3,327.6 L41.8,328.4 L42.5,329.6 L43.3,330.9 L44.1,332.3 L45.0,333.5 L45.8,334.7 L46.7,335.8 L47.6,337.0 L48.5,338.0 L49.5,339.0 L50.5,339.8 L51.5,340.6 L52.6,341.2 L53.8,341.9 L55.0,342.5 L56.4,343.2 L57.9,343.8 L59.4,344.5 L61.0,345.1 L62.5,345.6 L64.0,346.1 L65.4,346.4 L66.9,346.8 L68.4,347.1 L70.0,347.5 L71.7,347.9 L73.5,348.3 L75.3,348.7 L77.2,349.1 L79.0,349.5 L80.8,349.9 L82.6,350.3 L84.3,350.7 L86.1,351.1 L88.0,351.5 L90.0,351.8 L92.1,352.2 L94.2,352.5 L96.2,352.7 L98.0,353.0 L99.5,353.2 L100.8,353.5 L101.9,353.7 L103.1,353.9 L104.4,354.0 L105.8,354.1 L107.3,354.1 L108.8,354.1 L110.4,354.1 L112.0,354.0 L113.7,353.9 L115.5,353.7 L117.3,353.6 L119.0,353.3 L120.7,353.0 L122.3,352.6 L123.8,352.1 L125.3,351.6 L126.7,351.1 L128.0,350.5 L129.2,349.9 L130.4,349.3 L131.5,348.7 L132.6,348.0 L133.8,347.3 L135.0,346.5 L136.2,345.7 L137.4,344.8 L138.7,343.9 L140.0,343.0 L141.5,342.0 L143.1,341.0 L144.7,340.0 L146.0,339.1 L147.0,338.5 L148.0,363.5 L147.8,357.0 L147.0,357.3 L145.9,357.7 L144.6,358.3 L143.3,358.9 L142.0,359.5 L140.8,360.2 L139.7,361.0 L138.5,361.8 L137.3,362.7 L136.0,363.5 L134.7,364.3 L133.3,365.1 L131.8,366.0 L130.4,366.8 L129.0,367.5 L127.6,368.2 L126.3,368.8 L125.0,369.4 L123.6,370.0 L122.0,370.5 L120.3,371.0 L118.6,371.4 L116.8,371.7 L114.8,372.1 L112.5,372.5 L109.9,373.0 L106.9,373.5 L103.8,374.1 L100.8,374.5 L98.0,374.8 L95.5,374.9 L93.2,374.8 L90.9,374.7 L88.9,374.5 L87.0,374.3 L85.4,374.1 L84.0,374.0 L82.8,373.8 L81.5,373.5 L80.0,373.3 L78.3,373.0 L76.4,372.8 L74.5,372.5 L72.6,372.1 L70.7,371.8 L68.9,371.4 L67.1,371.1 L65.4,370.7 L63.7,370.3 L62.0,369.8 L60.4,369.3 L58.9,368.8 L57.4,368.3 L56.0,367.7 L54.4,367.0 L52.7,366.2 L50.9,365.2 L49.1,364.2 L47.4,363.1 L46.0,362.0 L44.8,360.8 L43.7,359.4 L42.8,358.0 L42.0,356.8 L41.5,356.0 Z" fill="#fff" stroke="none"/>
<line x1="66.0" y1="347.8" x2="66.0" y2="369.6" stroke="#000" stroke-width="3.60"/>
<line x1="92.5" y1="353.4" x2="92.5" y2="373.6" stroke="#000" stroke-width="3.60"/>
<line x1="121.0" y1="354.1" x2="121.0" y2="369.6" stroke="#000" stroke-width="3.60"/>
<line x1="137.0" y1="346.3" x2="137.0" y2="361.6" stroke="#000" stroke-width="3.60"/>
<line x1="56.0" y1="344.2" x2="56.0" y2="356.6" stroke="#000" stroke-width="3.60"/>
<line x1="72.4" y1="349.2" x2="72.4" y2="361.3" stroke="#000" stroke-width="3.60"/>
<line x1="82.0" y1="351.4" x2="82.0" y2="363.1" stroke="#000" stroke-width="3.60"/>
<line x1="109.3" y1="355.3" x2="109.3" y2="364.5" stroke="#000" stroke-width="3.60"/>
<line x1="130.5" y1="350.5" x2="130.5" y2="358.9" stroke="#000" stroke-width="3.60"/>
<line x1="142.0" y1="342.9" x2="142.0" y2="351.5" stroke="#000" stroke-width="3.60"/>
<path d="M56.0,117.0 L55.2,117.5 L54.0,118.2 L52.6,119.1 L51.2,120.0 L50.0,121.0 L49.0,122.0 L48.0,123.1 L47.1,124.3 L46.3,125.6 L45.5,127.0 L44.8,128.6 L44.1,130.4 L43.4,132.2 L42.9,134.1 L42.5,136.0 L42.2,137.9 L42.1,139.8 L42.0,141.7 L42.0,143.6 L42.0,145.5 L42.0,147.4 L42.1,149.3 L42.2,151.3 L42.3,153.2 L42.5,155.0 L42.7,156.8 L42.9,158.5 L43.1,160.2 L43.3,161.9 L43.6,163.6 L43.9,165.4 L44.3,167.3 L44.7,169.2 L45.1,170.9 L45.5,172.5 L45.9,173.8 L46.4,175.0 L46.8,176.0 L47.4,177.0 L48.0,178.0 L48.7,179.0 L49.5,179.9 L50.4,180.7 L51.3,181.6 L52.4,182.5 L53.6,183.4 L54.9,184.4 L56.3,185.3 L57.7,186.2 L59.0,187.0 L60.2,187.6 L61.3,188.2 L62.4,188.7 L63.4,189.1 L64.4,189.5 L65.3,189.8 L66.0,190.1 L66.8,190.4 L67.6,190.7 L68.7,191.0 L70.0,191.4 L71.5,191.9 L73.1,192.5 L74.7,193.0 L76.4,193.5 L78.0,194.0 L79.7,194.5 L81.3,195.0 L83.1,195.5 L85.0,196.0 L87.1,196.6 L89.3,197.2 L91.6,197.7 L93.9,198.3 L96.0,198.8 L98.0,199.2 L99.8,199.6 L101.6,199.9 L103.4,200.2 L105.0,200.5 L106.5,200.8 L108.0,201.0 L109.4,201.2 L110.7,201.4 L112.0,201.5 L113.2,201.5 L114.4,201.5 L115.5,201.4 L116.7,201.2 L118.0,201.0 L119.5,200.7 L121.2,200.4 L122.8,200.0 L124.5,199.6 L126.0,199.0 L127.3,198.3 L128.6,197.6 L129.8,196.8 L130.9,195.9 L132.0,195.0 L133.1,194.1 L134.2,193.1 L135.2,192.0 L136.1,191.0 L137.0,190.0 L137.7,189.0 L138.3,188.0 L138.9,187.1 L139.4,186.1 L140.0,185.0 L140.7,183.8 L141.5,182.4 L142.3,181.0 L143.0,179.8 L143.5,179.0" fill="none" stroke="#000" stroke-width="4.60"/>
<path d="M61.0,120.5 L60.3,121.5 L59.3,122.9 L58.1,124.5 L57.0,126.0 L55.9,127.5 L54.7,129.0 L53.5,130.5 L52.5,132.0 L51.6,133.5 L50.8,134.9 L50.1,136.4 L49.5,138.0 L48.9,139.6 L48.5,141.2 L48.1,143.0 L47.8,145.0 L47.7,147.6 L47.8,150.7 L47.9,153.6 L48.0,155.6" fill="none" stroke="#000" stroke-width="3.90"/>
<path d="M48.0,155.6 L48.3,156.3 L48.7,157.2 L49.3,158.3 L49.9,159.4 L50.5,160.5 L51.2,161.5 L51.9,162.6 L52.6,163.7 L53.5,164.7 L54.5,165.8 L55.6,166.9 L56.9,168.0 L58.3,169.1 L59.7,170.1 L61.2,171.0 L62.7,171.7 L64.3,172.3 L65.9,172.9 L67.5,173.3 L69.0,173.8 L70.4,174.2 L71.8,174.6 L73.2,174.9 L74.6,175.2 L76.0,175.5 L77.5,175.8 L78.9,176.0 L80.4,176.3 L82.0,176.5 L83.6,176.7 L85.3,176.9 L87.2,177.1 L89.1,177.3 L90.9,177.4 L92.5,177.6 L93.8,177.7 L94.9,177.9 L95.9,178.0 L97.0,178.1 L98.2,178.2 L99.7,178.3 L101.3,178.5 L102.9,178.6 L104.5,178.7 L106.0,178.8 L107.2,178.9 L108.3,179.0 L109.3,179.0 L110.4,179.0 L111.7,179.0 L113.3,178.9 L115.1,178.8 L117.1,178.6 L119.1,178.3 L121.0,178.0 L123.0,177.5 L125.1,176.9 L127.1,176.3 L129.1,175.6 L130.8,175.0 L132.3,174.4 L133.5,173.8 L134.7,173.2 L135.8,172.6 L137.0,172.0 L138.3,171.3 L139.7,170.5 L141.0,169.7 L142.2,169.0 L143.0,168.5" fill="none" stroke="#000" stroke-width="4.20"/>
<path d="M50.5,137.0 L50.9,137.7 L51.4,138.8 L52.1,140.0 L53.0,141.2 L54.0,142.5 L55.3,143.8 L56.8,145.1 L58.5,146.5 L60.2,147.8 L61.8,149.0 L63.3,150.0 L64.6,150.8 L66.0,151.6 L67.5,152.3 L69.0,153.0 L70.6,153.7 L72.3,154.5 L74.1,155.2 L75.9,155.8 L77.8,156.4 L79.8,156.9 L81.8,157.4 L83.9,157.8 L85.9,158.2 L88.0,158.5 L90.1,158.8 L92.2,158.9 L94.3,159.1 L96.3,159.2 L98.2,159.3 L99.9,159.4 L101.5,159.5 L103.1,159.5 L104.5,159.5 L106.0,159.5 L107.6,159.4 L109.2,159.1 L110.7,158.9 L112.1,158.7 L113.0,158.5" fill="none" stroke="#000" stroke-width="4.20"/>
<path d="M113.5,134.5 L114.2,134.8 L115.3,135.1 L116.5,135.5 L117.8,136.0 L119.0,136.5 L120.1,137.0 L121.3,137.6 L122.4,138.2 L123.6,138.8 L124.7,139.5 L125.8,140.2 L126.9,141.0 L128.0,141.8 L129.0,142.7 L130.0,143.5 L131.0,144.3 L131.9,145.2 L132.7,146.1 L133.6,147.0 L134.5,148.0 L135.4,149.1 L136.4,150.2 L137.3,151.5 L138.2,152.7 L139.0,154.0 L139.7,155.4 L140.5,157.1 L141.1,158.7 L141.6,160.0 L142.0,161.0" fill="none" stroke="#000" stroke-width="3.80"/>
<path d="M46.5,176.0 L46.0,176.7 L45.3,177.6 L44.5,178.7 L43.7,180.0 L43.0,181.5 L42.4,183.2 L41.9,185.1 L41.5,187.2 L41.2,189.3 L41.0,191.4 L41.1,193.7 L41.4,196.2 L41.8,198.7 L42.2,200.8 L42.5,202.3" fill="none" stroke="#000" stroke-width="4.50"/>
<path d="M63.0,192.0 L63.5,193.0 L64.3,194.3 L65.1,195.9 L66.1,197.6 L67.0,199.0 L67.9,200.3 L68.9,201.6 L69.9,202.8 L71.0,203.9 L72.0,205.0 L73.1,205.9 L74.2,206.8 L75.3,207.6 L76.4,208.3 L77.5,209.0 L78.6,209.7 L79.7,210.3 L80.8,210.8 L81.9,211.4 L83.0,212.0 L84.1,212.6 L85.1,213.2 L86.1,213.8 L87.2,214.4 L88.4,215.0 L89.8,215.7 L91.3,216.4 L92.8,217.1 L94.4,217.8 L96.0,218.3 L97.6,218.7 L99.2,219.0 L100.8,219.2 L102.4,219.4 L104.0,219.5 L105.6,219.5 L107.3,219.5 L109.0,219.4 L110.6,219.2 L112.0,219.0 L113.3,218.7 L114.5,218.4 L115.6,218.0 L116.6,217.6 L117.5,217.0 L118.4,216.4 L119.1,215.7 L119.8,214.9 L120.5,214.0 L121.0,213.0 L121.5,211.8 L121.9,210.3 L122.2,208.8 L122.4,207.3 L122.5,206.0 L122.4,204.8 L122.2,203.6 L121.9,202.5 L121.7,201.6 L121.5,201.0" fill="none" stroke="#000" stroke-width="4.20"/>
<path d="M42.5,202.3 L43.1,203.5 L43.8,205.2 L44.8,207.2 L45.8,209.2 L46.9,211.0 L48.1,212.6 L49.4,214.2 L50.8,215.7 L52.2,217.2 L53.5,218.6 L54.8,220.0 L56.1,221.4 L57.3,222.7 L58.6,223.9 L60.0,225.2 L61.4,226.4 L62.9,227.7 L64.4,228.8 L65.9,230.0 L67.6,231.0 L69.4,231.9 L71.3,232.8 L73.3,233.6 L75.2,234.4 L77.0,235.0 L78.6,235.5 L80.0,235.9 L81.4,236.3 L83.0,236.6 L85.0,237.0 L87.6,237.5 L90.5,238.1 L93.7,238.6 L96.9,239.1 L100.0,239.5 L103.0,239.8 L106.0,239.9 L109.0,240.0 L112.0,240.1 L115.0,240.0 L118.1,239.9 L121.3,239.7 L124.4,239.4 L127.4,239.0 L130.0,238.5 L132.2,237.8 L134.2,236.9 L135.9,235.9 L137.5,234.9 L139.0,234.0 L140.4,233.1 L141.7,232.2 L142.9,231.3 L143.8,230.5 L144.5,230.0" fill="none" stroke="#000" stroke-width="4.20"/>
<path d="M38.5,208.0 L39.0,209.5 L39.8,211.7 L40.7,214.2 L41.6,216.6 L42.5,218.6 L43.4,220.1 L44.2,221.4 L45.1,222.6 L46.0,223.7 L47.0,225.0 L48.0,226.4 L49.1,227.8 L50.3,229.3 L51.4,230.7 L52.5,232.0 L53.6,233.2 L54.7,234.4 L55.8,235.5 L56.9,236.5 L58.0,237.5 L59.0,238.4 L59.9,239.1 L60.8,239.8 L61.8,240.6 L63.0,241.5 L64.4,242.6 L66.0,243.9 L67.7,245.2 L69.6,246.6 L71.6,248.0 L73.9,249.4 L76.5,250.9 L79.2,252.4 L81.8,253.8 L84.4,255.0 L86.8,256.1 L89.2,257.1 L91.5,258.0 L93.8,258.8 L96.0,259.5 L98.1,260.2 L100.2,260.7 L102.1,261.2 L104.1,261.6 L106.0,262.0 L107.8,262.3 L109.6,262.6 L111.4,262.8 L113.2,263.0 L115.0,263.0 L117.0,263.0 L119.1,262.8 L121.2,262.6 L123.2,262.4 L125.0,262.0 L126.6,261.6 L128.1,261.0 L129.4,260.4 L130.7,259.7 L132.0,259.0 L133.2,258.2 L134.4,257.4 L135.6,256.4 L136.8,255.5 L138.0,254.5 L139.4,253.4 L141.1,252.1 L142.7,250.9 L144.0,249.8 L145.0,249.0" fill="none" stroke="#000" stroke-width="4.20"/>
<path d="M50.0,240.5 L49.3,240.9 L48.3,241.4 L47.1,242.0 L46.0,242.7 L45.0,243.5 L44.2,244.4 L43.4,245.4 L42.7,246.6 L42.1,247.8 L41.5,249.0 L41.0,250.3 L40.6,251.6 L40.2,253.1 L40.0,254.5 L39.8,256.0 L39.7,257.6 L39.8,259.2 L39.9,260.9 L40.1,262.5 L40.2,264.0 L40.3,265.3 L40.5,266.5 L40.6,267.7 L40.8,268.8 L41.0,270.0 L41.2,271.3 L41.4,272.7 L41.7,274.0 L41.9,275.2 L42.0,276.0" fill="none" stroke="#000" stroke-width="4.50"/>
<path d="M60.0,266.0 L61.3,267.3 L63.2,269.2 L65.3,271.4 L67.7,273.6 L70.0,275.4 L72.4,276.9 L74.9,278.3 L77.5,279.5 L80.1,280.7 L82.7,281.8 L85.3,282.9 L88.1,284.0 L90.8,285.0 L93.3,285.9 L95.4,286.5 L97.1,286.9 L98.5,287.1 L99.7,287.1 L100.8,287.1 L102.0,287.0 L103.3,286.9 L104.5,286.6 L105.8,286.3 L107.0,286.0 L108.2,285.6 L109.4,285.2 L110.5,284.7 L111.7,284.2 L112.8,283.6 L114.0,283.0 L115.2,282.4 L116.5,281.7 L117.8,281.0 L119.0,280.2 L120.0,279.3 L120.9,278.2 L121.7,277.0 L122.4,275.7 L123.0,274.3 L123.5,273.0 L123.9,271.6 L124.2,270.1 L124.4,268.6 L124.5,267.2 L124.5,266.0 L124.4,264.9 L124.2,264.0 L123.9,263.2 L123.7,262.5 L123.5,262.0" fill="none" stroke="#000" stroke-width="4.20"/>
<path d="M42.0,276.0 L42.2,276.9 L42.5,278.2 L42.9,279.7 L43.4,281.2 L44.0,282.5 L44.8,283.6 L45.7,284.7 L46.6,285.7 L47.7,286.6 L48.7,287.5 L49.7,288.3 L50.7,289.1 L51.7,289.7 L52.8,290.4 L54.0,291.0 L55.3,291.6 L56.7,292.1 L58.1,292.6 L59.6,293.1 L61.0,293.5 L62.3,293.8 L63.5,294.1 L64.8,294.4 L66.2,294.7 L67.8,295.0 L69.8,295.4 L72.1,296.0 L74.5,296.5 L76.8,297.0 L79.0,297.5 L80.9,297.9 L82.7,298.4 L84.4,298.8 L86.2,299.1 L88.0,299.5 L90.0,299.8 L92.1,300.2 L94.2,300.5 L96.2,300.8 L98.0,301.0 L99.5,301.2 L100.8,301.4 L101.9,301.6 L103.1,301.7 L104.4,301.8 L105.8,301.8 L107.3,301.8 L108.8,301.7 L110.4,301.6 L112.0,301.5 L113.7,301.4 L115.4,301.2 L117.1,301.0 L118.9,300.8 L120.7,300.5 L122.6,300.2 L124.5,299.8 L126.4,299.4 L128.3,298.9 L130.0,298.5 L131.5,298.1 L132.9,297.6 L134.2,297.1 L135.5,296.6 L137.0,296.0 L138.8,295.2 L140.9,294.3 L143.0,293.4 L144.7,292.6 L146.0,292.0" fill="none" stroke="#000" stroke-width="4.20"/>
<path d="M41.3,303.0 L41.8,303.8 L42.4,305.0 L43.2,306.3 L44.1,307.7 L45.0,309.0 L46.1,310.2 L47.3,311.4 L48.6,312.5 L49.8,313.6 L51.0,314.5 L52.0,315.3 L53.0,315.9 L53.9,316.4 L54.9,317.0 L56.0,317.5 L57.2,318.1 L58.4,318.7 L59.8,319.3 L61.1,319.8 L62.5,320.3 L63.9,320.7 L65.4,321.1 L66.8,321.4 L68.4,321.7 L70.0,322.0 L71.7,322.3 L73.5,322.6 L75.3,322.9 L77.2,323.2 L79.0,323.5 L80.8,323.8 L82.6,324.1 L84.3,324.4 L86.1,324.7 L88.0,325.0 L90.0,325.2 L92.1,325.5 L94.2,325.7 L96.2,325.8 L98.0,326.0 L99.5,326.2 L100.8,326.3 L101.9,326.4 L103.1,326.5 L104.4,326.6 L105.8,326.6 L107.3,326.7 L108.8,326.6 L110.4,326.6 L112.0,326.5 L113.7,326.4 L115.4,326.2 L117.1,326.1 L118.9,325.8 L120.7,325.5 L122.6,325.1 L124.5,324.6 L126.4,324.1 L128.3,323.6 L130.0,323.0 L131.5,322.5 L132.8,321.9 L134.1,321.4 L135.5,320.7 L137.0,320.0 L138.9,319.0 L141.1,317.9 L143.3,316.7 L145.2,315.7 L146.5,315.0" fill="none" stroke="#000" stroke-width="4.20"/>
<path d="M41.3,327.6 L41.8,328.4 L42.5,329.6 L43.3,330.9 L44.1,332.3 L45.0,333.5 L45.8,334.7 L46.7,335.8 L47.6,337.0 L48.5,338.0 L49.5,339.0 L50.5,339.8 L51.5,340.6 L52.6,341.2 L53.8,341.9 L55.0,342.5 L56.4,343.2 L57.9,343.8 L59.4,344.5 L61.0,345.1 L62.5,345.6 L64.0,346.1 L65.4,346.4 L66.9,346.8 L68.4,347.1 L70.0,347.5 L71.7,347.9 L73.5,348.3 L75.3,348.7 L77.2,349.1 L79.0,349.5 L80.8,349.9 L82.6,350.3 L84.3,350.7 L86.1,351.1 L88.0,351.5 L90.0,351.8 L92.1,352.2 L94.2,352.5 L96.2,352.7 L98.0,353.0 L99.5,353.2 L100.8,353.5 L101.9,353.7 L103.1,353.9 L104.4,354.0 L105.8,354.1 L107.3,354.1 L108.8,354.1 L110.4,354.1 L112.0,354.0 L113.7,353.9 L115.5,353.7 L117.3,353.6 L119.0,353.3 L120.7,353.0 L122.3,352.6 L123.8,352.1 L125.3,351.6 L126.7,351.1 L128.0,350.5 L129.2,349.9 L130.4,349.3 L131.5,348.7 L132.6,348.0 L133.8,347.3 L135.0,346.5 L136.2,345.7 L137.4,344.8 L138.7,343.9 L140.0,343.0 L141.5,342.0 L143.1,341.0 L144.7,340.0 L146.0,339.1 L147.0,338.5" fill="none" stroke="#000" stroke-width="4.20"/>
<path d="M41.5,356.0 L42.0,356.8 L42.8,358.0 L43.7,359.4 L44.8,360.8 L46.0,362.0 L47.4,363.1 L49.1,364.2 L50.9,365.2 L52.7,366.2 L54.4,367.0 L56.0,367.7 L57.4,368.3 L58.9,368.8 L60.4,369.3 L62.0,369.8 L63.7,370.3 L65.4,370.7 L67.1,371.1 L68.9,371.4 L70.7,371.8 L72.6,372.1 L74.5,372.5 L76.4,372.8 L78.3,373.0 L80.0,373.3 L81.5,373.5 L82.8,373.8 L84.0,374.0 L85.4,374.1 L87.0,374.3 L88.9,374.5 L90.9,374.7 L93.2,374.8 L95.5,374.9 L98.0,374.8 L100.8,374.5 L103.8,374.1 L106.9,373.5 L109.9,373.0 L112.5,372.5 L114.8,372.1 L116.8,371.7 L118.6,371.4 L120.3,371.0 L122.0,370.5 L123.6,370.0 L125.0,369.4 L126.3,368.8 L127.6,368.2 L129.0,367.5 L130.4,366.8 L131.8,366.0 L133.3,365.1 L134.7,364.3 L136.0,363.5 L137.3,362.7 L138.5,361.8 L139.7,361.0 L140.8,360.2 L142.0,359.5 L143.3,358.9 L144.6,358.3 L145.9,357.7 L147.0,357.3 L147.8,357.0" fill="none" stroke="#000" stroke-width="4.40"/>
<line x1="42.0" y1="276.0" x2="41.5" y2="300.0" stroke="#000" stroke-width="4.20"/>
<line x1="41.5" y1="300.0" x2="42.0" y2="352.0" stroke="#000" stroke-width="3.80"/>
<path d="M60.0,70.0 L60.2,69.2 L60.4,68.1 L60.7,66.8 L61.1,65.4 L61.5,64.1 L62.0,63.0 L62.6,62.1 L63.2,61.2 L63.9,60.4 L64.7,59.7 L65.6,59.1 L66.7,58.7 L68.0,58.5 L69.5,58.6 L71.1,58.8 L72.8,59.0 L74.4,59.3 L76.0,59.5 L77.6,59.7 L79.2,59.8 L80.8,60.0 L82.3,60.2 L83.6,60.3 L84.5,60.4" fill="none" stroke="#000" stroke-width="4.00"/>
<line x1="61.0" y1="66.0" x2="62.0" y2="142.0" stroke="#000" stroke-width="5.20"/>
<line x1="112.8" y1="63.0" x2="113.5" y2="158.0" stroke="#000" stroke-width="5.20"/>
<line x1="68.5" y1="70.0" x2="69.0" y2="140.0" stroke="#000" stroke-width="2.40"/>
<line x1="73.8" y1="67.6" x2="74.0" y2="88.6" stroke="#000" stroke-width="3.40"/>
<line x1="74.0" y1="104.0" x2="74.4" y2="150.0" stroke="#000" stroke-width="3.40"/>
<line x1="104.5" y1="68.0" x2="105.0" y2="152.0" stroke="#000" stroke-width="3.00"/>
<path d="M84.5,60.4 C88,56 96,54.8 102,55.3 C108,55.8 112,59 113.5,64 C110,68.5 104,70 98,69 C94,68.5 91,67.2 89,65.5" fill="#fff" stroke="#000" stroke-width="3.8"/>
<line x1="96.5" y1="65.5" x2="99.5" y2="60.0" stroke="#000" stroke-width="2.40"/>
<line x1="100.5" y1="65.5" x2="103.5" y2="60.0" stroke="#000" stroke-width="2.40"/>
<path d="M115.6,80.4 L125.0,71.5 L140.5,66.8 L148.7,64.5 L154.6,66.8 L161.7,72.7 L160.5,75.7 L152.3,77.5 L134.5,81.0 L118.0,84.5 Z" fill="#fff" stroke="#000" stroke-width="3.8" stroke-linejoin="round"/>
<path d="M118.0,84.5 L134.5,81.0 L152.3,77.5 L160.5,75.7 L161.7,72.7 L161.7,89.3 L152.3,92.8 L134.5,98.7 L119.2,104.6 Z" fill="#fff" stroke="#000" stroke-width="3.8" stroke-linejoin="round"/>
<line x1="124.5" y1="101.6" x2="124.5" y2="94.1" stroke="#000" stroke-width="2.80"/>
<line x1="134.0" y1="97.9" x2="134.0" y2="90.4" stroke="#000" stroke-width="2.80"/>
<line x1="144.0" y1="94.6" x2="144.0" y2="87.1" stroke="#000" stroke-width="2.80"/>
<line x1="124.0" y1="77.5" x2="133.0" y2="74.5" stroke="#000" stroke-width="2.80"/>
<line x1="140.0" y1="71.5" x2="149.0" y2="69.5" stroke="#000" stroke-width="2.80"/>
<line x1="119.5" y1="81.0" x2="124.0" y2="79.8" stroke="#000" stroke-width="2.40"/>
<line x1="151.5" y1="70.5" x2="156.0" y2="71.5" stroke="#000" stroke-width="2.20"/>
<path d="M111,66 L117,80 L119,104 L113,108 Z" fill="#000"/>
<path d="M68.0,377.0 L120.0,377.0 L120.5,442.0 L100.0,449.0 L68.0,442.0 Z" fill="#fff" stroke="none"/>
<line x1="68.0" y1="376.0" x2="68.0" y2="441.0" stroke="#000" stroke-width="5.00"/>
<line x1="120.0" y1="376.0" x2="120.5" y2="441.0" stroke="#000" stroke-width="4.60"/>
<path d="M68.0,440.0 L68.4,440.6 L68.9,441.4 L69.5,442.3 L70.2,443.3 L71.1,444.3 L72.0,445.0 L73.0,445.6 L74.2,446.1 L75.4,446.5 L76.8,446.9 L78.3,447.2 L80.0,447.5 L81.9,447.8 L84.2,448.0 L86.6,448.2 L88.9,448.3 L91.1,448.4 L93.0,448.5 L94.6,448.5 L96.0,448.4 L97.3,448.3 L98.4,448.2 L99.3,448.1 L100.0,448.0" fill="none" stroke="#000" stroke-width="4.20"/>
<ellipse cx="108.5" cy="445" rx="12" ry="5" fill="#fff" stroke="#000" stroke-width="3.8"/>
<line x1="103.0" y1="447.5" x2="106.0" y2="442.0" stroke="#000" stroke-width="2.40"/>
<line x1="108.0" y1="447.5" x2="111.0" y2="442.0" stroke="#000" stroke-width="2.40"/>
<line x1="72.5" y1="380.0" x2="72.5" y2="440.0" stroke="#000" stroke-width="2.80"/>
<line x1="81.0" y1="398.0" x2="81.0" y2="422.0" stroke="#000" stroke-width="3.80"/>
<line x1="107.0" y1="378.0" x2="107.0" y2="438.0" stroke="#000" stroke-width="2.80"/>
<line x1="116.5" y1="380.0" x2="116.5" y2="440.0" stroke="#000" stroke-width="3.00"/>
<path d="M39.5,371.5 L40.7,371.8 L42.4,372.2 L44.3,372.7 L46.4,373.1 L48.5,373.6 L50.5,374.0 L52.4,374.3 L54.3,374.6 L56.2,374.8 L58.1,375.1 L59.8,375.3 L61.4,375.5 L62.8,375.7 L64.2,375.9 L65.4,376.1 L66.4,376.3 L67.3,376.4 L68.0,376.5" fill="none" stroke="#000" stroke-width="4.00"/>
<path d="M147.8,359.0 L147.3,359.7 L146.5,360.6 L145.7,361.7 L144.8,362.9 L143.8,364.0 L143.0,365.0 L142.3,365.9 L141.5,366.7 L140.8,367.5 L140.1,368.3 L139.3,369.1 L138.5,370.0 L137.6,371.0 L136.6,372.1 L135.6,373.2 L134.5,374.3 L133.5,375.2 L132.4,376.0 L131.3,376.6 L130.3,377.1 L129.2,377.4 L128.1,377.7 L127.0,377.9 L126.0,378.0 L124.9,378.0 L123.7,377.9 L122.6,377.6 L121.5,377.4 L120.6,377.1 L120.0,377.0" fill="none" stroke="#000" stroke-width="3.80"/>
<line x1="125.3" y1="376.0" x2="125.5" y2="405.0" stroke="#000" stroke-width="3.60"/>
<line x1="86.4" y1="46.0" x2="87.6" y2="108.0" stroke="#000" stroke-width="3.20"/>
<line x1="87.9" y1="121.0" x2="88.0" y2="123.5" stroke="#000" stroke-width="3.20"/>
<line x1="88.1" y1="131.0" x2="88.6" y2="158.0" stroke="#000" stroke-width="3.40"/>
<line x1="88.6" y1="158.0" x2="92.5" y2="376.0" stroke="#000" stroke-width="3.20"/>
<line x1="92.5" y1="376.0" x2="93.0" y2="456.5" stroke="#000" stroke-width="3.20"/>
<line x1="142.8" y1="126.0" x2="147.8" y2="359.0" stroke="#000" stroke-width="5.00"/>
<line x1="35.0" y1="126.0" x2="39.5" y2="371.5" stroke="#000" stroke-width="3.40"/>
<path d="M337.3,78.0 L337.4,75.9 L337.8,73.9 L338.5,71.8 L339.4,69.8 L340.5,67.8 L341.9,65.9 L343.5,64.0 L345.4,62.2 L347.5,60.4 L349.8,58.8 L352.3,57.2 L355.0,55.7 L357.9,54.2 L361.0,52.9 L364.2,51.7 L367.5,50.6 L371.0,49.7 L374.6,48.8 L378.4,48.1 L382.1,47.5 L386.0,47.0 L389.9,46.7 L393.8,46.5 L397.8,46.4 L401.8,46.5 L405.7,46.7 L409.6,47.0 L413.5,47.5 L417.2,48.1 L421.0,48.8 L424.6,49.7 L428.1,50.6 L431.4,51.7 L434.6,52.9 L437.7,54.2 L440.6,55.7 L443.3,57.2 L445.8,58.8 L448.1,60.4 L450.2,62.2 L452.1,64.0 L453.7,65.9 L455.1,67.8 L456.2,69.8 L457.1,71.8 L457.8,73.9 L458.2,75.9 L458.3,78.0 L458.3,91.2 L458.2,93.3 L457.8,95.3 L457.1,97.4 L456.2,99.4 L455.1,101.4 L453.7,103.3 L452.1,105.2 L450.2,107.0 L448.1,108.8 L445.8,110.4 L443.3,112.0 L440.6,113.5 L437.7,115.0 L434.6,116.3 L431.4,117.5 L428.1,118.6 L424.6,119.5 L421.0,120.4 L417.2,121.1 L413.5,121.7 L409.6,122.2 L405.7,122.5 L401.8,122.7 L397.8,122.8 L393.8,122.7 L389.9,122.5 L386.0,122.2 L382.1,121.7 L378.4,121.1 L374.6,120.4 L371.0,119.5 L367.6,118.6 L364.2,117.5 L361.0,116.3 L357.9,115.0 L355.0,113.5 L352.3,112.0 L349.8,110.4 L347.5,108.8 L345.4,107.0 L343.5,105.2 L341.9,103.3 L340.5,101.4 L339.4,99.4 L338.5,97.4 L337.8,95.3 L337.4,93.3 L337.3,91.2 Z" fill="#fff"/>
<line x1="455.3" y1="88.8" x2="455.3" y2="100.0" stroke="#000" stroke-width="3.3"/>
<line x1="450.2" y1="94.8" x2="450.2" y2="106.0" stroke="#000" stroke-width="3.3"/>
<line x1="442.8" y1="100.1" x2="442.8" y2="111.3" stroke="#000" stroke-width="3.3"/>
<line x1="433.4" y1="104.6" x2="433.4" y2="115.8" stroke="#000" stroke-width="3.3"/>
<line x1="422.4" y1="107.9" x2="422.4" y2="119.1" stroke="#000" stroke-width="3.3"/>
<line x1="410.4" y1="109.9" x2="410.4" y2="121.1" stroke="#000" stroke-width="3.3"/>
<line x1="397.8" y1="110.6" x2="397.8" y2="121.8" stroke="#000" stroke-width="3.3"/>
<line x1="385.2" y1="109.9" x2="385.2" y2="121.1" stroke="#000" stroke-width="3.3"/>
<line x1="373.2" y1="107.9" x2="373.2" y2="119.1" stroke="#000" stroke-width="3.3"/>
<line x1="362.2" y1="104.6" x2="362.2" y2="115.8" stroke="#000" stroke-width="3.3"/>
<line x1="352.8" y1="100.1" x2="352.8" y2="111.3" stroke="#000" stroke-width="3.3"/>
<line x1="345.4" y1="94.8" x2="345.4" y2="106.0" stroke="#000" stroke-width="3.3"/>
<line x1="340.3" y1="88.8" x2="340.3" y2="100.0" stroke="#000" stroke-width="3.3"/>
<ellipse cx="397.8" cy="78" rx="60.5" ry="31.6" fill="none" stroke="#000" stroke-width="4.1"/>
<path d="M458.3,78.0 L458.3,91.2 L458.2,93.3 L457.8,95.3 L457.1,97.4 L456.2,99.4 L455.1,101.4 L453.7,103.3 L452.1,105.2 L450.2,107.0 L448.1,108.8 L445.8,110.4 L443.3,112.0 L440.6,113.5 L437.7,115.0 L434.6,116.3 L431.4,117.5 L428.1,118.6 L424.6,119.5 L421.0,120.4 L417.2,121.1 L413.5,121.7 L409.6,122.2 L405.7,122.5 L401.8,122.7 L397.8,122.8 L393.8,122.7 L389.9,122.5 L386.0,122.2 L382.1,121.7 L378.4,121.1 L374.6,120.4 L371.0,119.5 L367.6,118.6 L364.2,117.5 L361.0,116.3 L357.9,115.0 L355.0,113.5 L352.3,112.0 L349.8,110.4 L347.5,108.8 L345.4,107.0 L343.5,105.2 L341.9,103.3 L340.5,101.4 L339.4,99.4 L338.5,97.4 L337.8,95.3 L337.4,93.3 L337.3,91.2 L337.3,78.0" fill="none" stroke="#000" stroke-width="4.1"/>
<ellipse cx="395.8" cy="77" rx="36.5" ry="17" fill="#fff" stroke="#000" stroke-width="4.1"/>
<path d="M369.5,86.8 L367.8,85.8 L366.2,84.7 L364.9,83.6 L363.8,82.4 L362.9,81.3 L362.2,80.0 L361.7,78.8 L361.5,77.5 L361.5,76.3 L361.8,75.0 L362.3,73.8 L363.0,72.6 L363.9,71.4 L365.1,70.2 L366.5,69.1 L368.1,68.1 L369.8,67.1 L371.8,66.2 L373.9,65.3 L376.1,64.5" fill="none" stroke="#000" stroke-width="6.5"/>
<line x1="362.7" y1="71.3" x2="362.7" y2="76.3" stroke="#000" stroke-width="2.4"/>
<line x1="368.7" y1="67.1" x2="368.7" y2="72.1" stroke="#000" stroke-width="2.4"/>
<line x1="377.6" y1="63.8" x2="377.6" y2="68.8" stroke="#000" stroke-width="2.4"/>
<line x1="388.2" y1="61.9" x2="388.2" y2="66.9" stroke="#000" stroke-width="2.4"/>
<line x1="399.6" y1="61.6" x2="399.6" y2="66.6" stroke="#000" stroke-width="2.4"/>
<line x1="410.6" y1="63.0" x2="410.6" y2="68.0" stroke="#000" stroke-width="2.4"/>
<line x1="420.2" y1="65.9" x2="420.2" y2="70.9" stroke="#000" stroke-width="2.4"/>
<line x1="427.4" y1="70.0" x2="427.4" y2="75.0" stroke="#000" stroke-width="2.4"/>
<line x1="431.1" y1="74.1" x2="431.1" y2="79.1" stroke="#000" stroke-width="2.4"/>
<path d="M365,83 Q395.5,67.5 428,80" fill="none" stroke="#000" stroke-width="3.8949999999999996"/>
<line x1="384.5" y1="122.0" x2="396.0" y2="109.0" stroke="#000" stroke-width="3.28"/>
<path d="M338.0,168.5 L338.1,166.6 L338.5,164.8 L339.2,163.0 L340.1,161.2 L341.3,159.4 L342.7,157.7 L344.3,156.0 L346.2,154.3 L348.4,152.8 L350.7,151.3 L353.3,149.8 L356.0,148.5 L359.0,147.2 L362.1,146.0 L365.3,145.0 L368.8,144.0 L372.3,143.1 L376.0,142.4 L379.7,141.7 L383.6,141.2 L387.5,140.7 L391.5,140.4 L395.5,140.3 L399.5,140.2 L403.5,140.3 L407.5,140.4 L411.5,140.7 L415.4,141.2 L419.3,141.7 L423.0,142.4 L426.7,143.1 L430.2,144.0 L433.7,145.0 L436.9,146.0 L440.0,147.2 L443.0,148.5 L445.7,149.8 L448.3,151.3 L450.6,152.8 L452.8,154.3 L454.7,156.0 L456.3,157.7 L457.7,159.4 L458.9,161.2 L459.8,163.0 L460.5,164.8 L460.9,166.6 L461.0,168.5 L461.0,187.3 L460.9,189.2 L460.5,191.0 L459.8,192.8 L458.9,194.6 L457.7,196.4 L456.3,198.1 L454.7,199.8 L452.8,201.5 L450.6,203.0 L448.3,204.5 L445.7,206.0 L443.0,207.3 L440.0,208.6 L436.9,209.8 L433.7,210.8 L430.2,211.8 L426.7,212.7 L423.0,213.4 L419.3,214.1 L415.4,214.6 L411.5,215.1 L407.5,215.4 L403.5,215.5 L399.5,215.6 L395.5,215.5 L391.5,215.4 L387.5,215.1 L383.6,214.6 L379.7,214.1 L376.0,213.4 L372.3,212.7 L368.8,211.8 L365.3,210.8 L362.1,209.8 L359.0,208.6 L356.0,207.3 L353.3,206.0 L350.7,204.5 L348.4,203.0 L346.2,201.5 L344.3,199.8 L342.7,198.1 L341.3,196.4 L340.1,194.6 L339.2,192.8 L338.5,191.0 L338.1,189.2 L338.0,187.3 Z" fill="#fff"/>
<line x1="458.0" y1="178.2" x2="458.0" y2="195.0" stroke="#000" stroke-width="3.3"/>
<line x1="452.8" y1="183.7" x2="452.8" y2="200.5" stroke="#000" stroke-width="3.3"/>
<line x1="445.2" y1="188.4" x2="445.2" y2="205.2" stroke="#000" stroke-width="3.3"/>
<line x1="435.6" y1="192.4" x2="435.6" y2="209.2" stroke="#000" stroke-width="3.3"/>
<line x1="424.5" y1="195.4" x2="424.5" y2="212.2" stroke="#000" stroke-width="3.3"/>
<line x1="412.3" y1="197.2" x2="412.3" y2="214.0" stroke="#000" stroke-width="3.3"/>
<line x1="399.5" y1="197.8" x2="399.5" y2="214.6" stroke="#000" stroke-width="3.3"/>
<line x1="386.7" y1="197.2" x2="386.7" y2="214.0" stroke="#000" stroke-width="3.3"/>
<line x1="374.5" y1="195.4" x2="374.5" y2="212.2" stroke="#000" stroke-width="3.3"/>
<line x1="363.4" y1="192.4" x2="363.4" y2="209.2" stroke="#000" stroke-width="3.3"/>
<line x1="353.8" y1="188.4" x2="353.8" y2="205.2" stroke="#000" stroke-width="3.3"/>
<line x1="346.2" y1="183.7" x2="346.2" y2="200.5" stroke="#000" stroke-width="3.3"/>
<line x1="341.0" y1="178.2" x2="341.0" y2="195.0" stroke="#000" stroke-width="3.3"/>
<ellipse cx="399.5" cy="168.5" rx="61.5" ry="28.3" fill="none" stroke="#000" stroke-width="4.1"/>
<path d="M461.0,168.5 L461.0,187.3 L460.9,189.2 L460.5,191.0 L459.8,192.8 L458.9,194.6 L457.7,196.4 L456.3,198.1 L454.7,199.8 L452.8,201.5 L450.6,203.0 L448.3,204.5 L445.7,206.0 L443.0,207.3 L440.0,208.6 L436.9,209.8 L433.7,210.8 L430.2,211.8 L426.7,212.7 L423.0,213.4 L419.3,214.1 L415.4,214.6 L411.5,215.1 L407.5,215.4 L403.5,215.5 L399.5,215.6 L395.5,215.5 L391.5,215.4 L387.5,215.1 L383.6,214.6 L379.7,214.1 L376.0,213.4 L372.3,212.7 L368.8,211.8 L365.3,210.8 L362.1,209.8 L359.0,208.6 L356.0,207.3 L353.3,206.0 L350.7,204.5 L348.4,203.0 L346.2,201.5 L344.3,199.8 L342.7,198.1 L341.3,196.4 L340.1,194.6 L339.2,192.8 L338.5,191.0 L338.1,189.2 L338.0,187.3 L338.0,168.5" fill="none" stroke="#000" stroke-width="4.1"/>
<ellipse cx="396.2" cy="170" rx="35.6" ry="16.2" fill="#fff" stroke="#000" stroke-width="4.1"/>
<path d="M370.6,179.3 L368.9,178.3 L367.4,177.3 L366.1,176.3 L365.0,175.2 L364.1,174.0 L363.5,172.9 L363.0,171.7 L362.8,170.5 L362.8,169.3 L363.1,168.1 L363.6,166.9 L364.3,165.8 L365.2,164.7 L366.3,163.6 L367.6,162.5 L369.2,161.5 L370.9,160.6 L372.8,159.7 L374.8,158.9 L377.0,158.2" fill="none" stroke="#000" stroke-width="6.5"/>
<line x1="363.9" y1="164.7" x2="363.9" y2="169.7" stroke="#000" stroke-width="2.4"/>
<line x1="369.7" y1="160.7" x2="369.7" y2="165.7" stroke="#000" stroke-width="2.4"/>
<line x1="378.4" y1="157.5" x2="378.4" y2="162.5" stroke="#000" stroke-width="2.4"/>
<line x1="388.8" y1="155.7" x2="388.8" y2="160.7" stroke="#000" stroke-width="2.4"/>
<line x1="399.9" y1="155.4" x2="399.9" y2="160.4" stroke="#000" stroke-width="2.4"/>
<line x1="410.7" y1="156.7" x2="410.7" y2="161.7" stroke="#000" stroke-width="2.4"/>
<line x1="420.0" y1="159.5" x2="420.0" y2="164.5" stroke="#000" stroke-width="2.4"/>
<line x1="427.0" y1="163.4" x2="427.0" y2="168.4" stroke="#000" stroke-width="2.4"/>
<line x1="430.6" y1="167.3" x2="430.6" y2="172.3" stroke="#000" stroke-width="2.4"/>
<path d="M365,173.5 Q399.5,161.9 428,172.7" fill="none" stroke="#000" stroke-width="3.8949999999999996"/>
<line x1="438.5" y1="149.0" x2="429.5" y2="158.0" stroke="#000" stroke-width="3.28"/>
<path d="M342.4,281.6 L342.5,279.7 L342.9,277.7 L343.5,275.8 L344.4,273.9 L345.6,272.1 L347.0,270.3 L348.6,268.5 L350.4,266.8 L352.5,265.2 L354.8,263.6 L357.2,262.1 L359.9,260.7 L362.8,259.3 L365.8,258.1 L369.0,257.0 L372.3,256.0 L375.8,255.1 L379.3,254.3 L383.0,253.6 L386.7,253.0 L390.5,252.6 L394.4,252.3 L398.3,252.1 L402.2,252.0 L406.1,252.1 L410.0,252.3 L413.9,252.6 L417.7,253.0 L421.4,253.6 L425.1,254.3 L428.6,255.1 L432.1,256.0 L435.4,257.0 L438.6,258.1 L441.6,259.3 L444.5,260.7 L447.2,262.1 L449.6,263.6 L451.9,265.2 L454.0,266.8 L455.8,268.5 L457.4,270.3 L458.8,272.1 L460.0,273.9 L460.9,275.8 L461.5,277.7 L461.9,279.7 L462.0,281.6 L462.0,297.1 L461.9,299.0 L461.5,301.0 L460.9,302.9 L460.0,304.8 L458.8,306.6 L457.4,308.4 L455.8,310.2 L454.0,311.9 L451.9,313.5 L449.6,315.1 L447.2,316.6 L444.5,318.0 L441.6,319.4 L438.6,320.6 L435.4,321.7 L432.1,322.7 L428.6,323.6 L425.1,324.4 L421.4,325.1 L417.7,325.7 L413.9,326.1 L410.0,326.4 L406.1,326.6 L402.2,326.7 L398.3,326.6 L394.4,326.4 L390.5,326.1 L386.7,325.7 L383.0,325.1 L379.3,324.4 L375.8,323.6 L372.3,322.7 L369.0,321.7 L365.8,320.6 L362.8,319.4 L359.9,318.0 L357.2,316.6 L354.8,315.1 L352.5,313.5 L350.4,311.9 L348.6,310.2 L347.0,308.4 L345.6,306.6 L344.4,304.8 L343.5,302.9 L342.9,301.0 L342.5,299.0 L342.4,297.1 Z" fill="#fff"/>
<line x1="459.1" y1="291.7" x2="459.1" y2="305.2" stroke="#000" stroke-width="3.3"/>
<line x1="454.0" y1="297.4" x2="454.0" y2="310.9" stroke="#000" stroke-width="3.3"/>
<line x1="446.6" y1="302.4" x2="446.6" y2="315.9" stroke="#000" stroke-width="3.3"/>
<line x1="437.3" y1="306.5" x2="437.3" y2="320.0" stroke="#000" stroke-width="3.3"/>
<line x1="426.5" y1="309.6" x2="426.5" y2="323.1" stroke="#000" stroke-width="3.3"/>
<line x1="414.6" y1="311.6" x2="414.6" y2="325.1" stroke="#000" stroke-width="3.3"/>
<line x1="402.2" y1="312.2" x2="402.2" y2="325.7" stroke="#000" stroke-width="3.3"/>
<line x1="389.8" y1="311.6" x2="389.8" y2="325.1" stroke="#000" stroke-width="3.3"/>
<line x1="377.9" y1="309.6" x2="377.9" y2="323.1" stroke="#000" stroke-width="3.3"/>
<line x1="367.1" y1="306.5" x2="367.1" y2="320.0" stroke="#000" stroke-width="3.3"/>
<line x1="357.8" y1="302.4" x2="357.8" y2="315.9" stroke="#000" stroke-width="3.3"/>
<line x1="350.4" y1="297.4" x2="350.4" y2="310.9" stroke="#000" stroke-width="3.3"/>
<line x1="345.3" y1="291.7" x2="345.3" y2="305.2" stroke="#000" stroke-width="3.3"/>
<ellipse cx="402.2" cy="281.6" rx="59.8" ry="29.6" fill="none" stroke="#000" stroke-width="4.1"/>
<path d="M462.0,281.6 L462.0,297.1 L461.9,299.0 L461.5,301.0 L460.9,302.9 L460.0,304.8 L458.8,306.6 L457.4,308.4 L455.8,310.2 L454.0,311.9 L451.9,313.5 L449.6,315.1 L447.2,316.6 L444.5,318.0 L441.6,319.4 L438.6,320.6 L435.4,321.7 L432.1,322.7 L428.6,323.6 L425.1,324.4 L421.4,325.1 L417.7,325.7 L413.9,326.1 L410.0,326.4 L406.1,326.6 L402.2,326.7 L398.3,326.6 L394.4,326.4 L390.5,326.1 L386.7,325.7 L383.0,325.1 L379.3,324.4 L375.8,323.6 L372.3,322.7 L369.0,321.7 L365.8,320.6 L362.8,319.4 L359.9,318.0 L357.2,316.6 L354.8,315.1 L352.5,313.5 L350.4,311.9 L348.6,310.2 L347.0,308.4 L345.6,306.6 L344.4,304.8 L343.5,302.9 L342.9,301.0 L342.5,299.0 L342.4,297.1 L342.4,281.6" fill="none" stroke="#000" stroke-width="4.1"/>
<ellipse cx="398.9" cy="282" rx="33.9" ry="16.3" fill="#fff" stroke="#000" stroke-width="4.1"/>
<path d="M374.6,291.3 L373.0,290.4 L371.6,289.4 L370.3,288.3 L369.3,287.2 L368.5,286.1 L367.8,284.9 L367.4,283.7 L367.2,282.5 L367.2,281.3 L367.5,280.1 L367.9,278.9 L368.6,277.8 L369.5,276.6 L370.5,275.5 L371.8,274.5 L373.3,273.5 L374.9,272.5 L376.7,271.7 L378.6,270.9 L380.7,270.1" fill="none" stroke="#000" stroke-width="6.5"/>
<line x1="368.2" y1="276.6" x2="368.2" y2="281.6" stroke="#000" stroke-width="2.4"/>
<line x1="373.7" y1="272.6" x2="373.7" y2="277.6" stroke="#000" stroke-width="2.4"/>
<line x1="381.9" y1="269.4" x2="381.9" y2="274.4" stroke="#000" stroke-width="2.4"/>
<line x1="391.9" y1="267.6" x2="391.9" y2="272.6" stroke="#000" stroke-width="2.4"/>
<line x1="402.4" y1="267.3" x2="402.4" y2="272.3" stroke="#000" stroke-width="2.4"/>
<line x1="412.7" y1="268.6" x2="412.7" y2="273.6" stroke="#000" stroke-width="2.4"/>
<line x1="421.6" y1="271.4" x2="421.6" y2="276.4" stroke="#000" stroke-width="2.4"/>
<line x1="428.3" y1="275.3" x2="428.3" y2="280.3" stroke="#000" stroke-width="2.4"/>
<line x1="431.6" y1="279.3" x2="431.6" y2="284.3" stroke="#000" stroke-width="2.4"/>
<path d="M369,287 Q401.5,277.8 428,285.5" fill="none" stroke="#000" stroke-width="3.8949999999999996"/>
<line x1="361.5" y1="262.2" x2="370.8" y2="270.3" stroke="#000" stroke-width="3.28"/>
<path d="M343.5,378.9 L343.6,377.0 L344.0,375.0 L344.7,373.1 L345.5,371.2 L346.7,369.4 L348.1,367.6 L349.7,365.8 L351.5,364.1 L353.6,362.5 L355.9,360.9 L358.4,359.4 L361.1,358.0 L363.9,356.6 L367.0,355.4 L370.2,354.3 L373.5,353.3 L377.0,352.4 L380.5,351.6 L384.2,350.9 L388.0,350.3 L391.8,349.9 L395.7,349.6 L399.6,349.4 L403.5,349.3 L407.4,349.4 L411.3,349.6 L415.2,349.9 L419.0,350.3 L422.8,350.9 L426.5,351.6 L430.0,352.4 L433.5,353.3 L436.8,354.3 L440.0,355.4 L443.1,356.6 L445.9,358.0 L448.6,359.4 L451.1,360.9 L453.4,362.5 L455.5,364.1 L457.3,365.8 L458.9,367.6 L460.3,369.4 L461.5,371.2 L462.3,373.1 L463.0,375.0 L463.4,377.0 L463.5,378.9 L463.5,394.9 L463.4,396.8 L463.0,398.8 L462.3,400.7 L461.5,402.6 L460.3,404.4 L458.9,406.2 L457.3,408.0 L455.5,409.7 L453.4,411.3 L451.1,412.9 L448.6,414.4 L445.9,415.8 L443.1,417.2 L440.0,418.4 L436.8,419.5 L433.5,420.5 L430.0,421.4 L426.5,422.2 L422.8,422.9 L419.0,423.5 L415.2,423.9 L411.3,424.2 L407.4,424.4 L403.5,424.5 L399.6,424.4 L395.7,424.2 L391.8,423.9 L388.0,423.5 L384.2,422.9 L380.5,422.2 L377.0,421.4 L373.5,420.5 L370.2,419.5 L367.0,418.4 L363.9,417.2 L361.1,415.8 L358.4,414.4 L355.9,412.9 L353.6,411.3 L351.5,409.7 L349.7,408.0 L348.1,406.2 L346.7,404.4 L345.5,402.6 L344.7,400.7 L344.0,398.8 L343.6,396.8 L343.5,394.9 Z" fill="#fff"/>
<line x1="460.6" y1="389.0" x2="460.6" y2="403.0" stroke="#000" stroke-width="3.3"/>
<line x1="455.5" y1="394.7" x2="455.5" y2="408.7" stroke="#000" stroke-width="3.3"/>
<line x1="448.1" y1="399.7" x2="448.1" y2="413.7" stroke="#000" stroke-width="3.3"/>
<line x1="438.8" y1="403.8" x2="438.8" y2="417.8" stroke="#000" stroke-width="3.3"/>
<line x1="427.9" y1="406.9" x2="427.9" y2="420.9" stroke="#000" stroke-width="3.3"/>
<line x1="416.0" y1="408.9" x2="416.0" y2="422.9" stroke="#000" stroke-width="3.3"/>
<line x1="403.5" y1="409.5" x2="403.5" y2="423.5" stroke="#000" stroke-width="3.3"/>
<line x1="391.0" y1="408.9" x2="391.0" y2="422.9" stroke="#000" stroke-width="3.3"/>
<line x1="379.1" y1="406.9" x2="379.1" y2="420.9" stroke="#000" stroke-width="3.3"/>
<line x1="368.2" y1="403.8" x2="368.2" y2="417.8" stroke="#000" stroke-width="3.3"/>
<line x1="358.9" y1="399.7" x2="358.9" y2="413.7" stroke="#000" stroke-width="3.3"/>
<line x1="351.5" y1="394.7" x2="351.5" y2="408.7" stroke="#000" stroke-width="3.3"/>
<line x1="346.4" y1="389.0" x2="346.4" y2="403.0" stroke="#000" stroke-width="3.3"/>
<ellipse cx="403.5" cy="378.9" rx="60" ry="29.6" fill="none" stroke="#000" stroke-width="4.1"/>
<path d="M463.5,378.9 L463.5,394.9 L463.4,396.8 L463.0,398.8 L462.3,400.7 L461.5,402.6 L460.3,404.4 L458.9,406.2 L457.3,408.0 L455.5,409.7 L453.4,411.3 L451.1,412.9 L448.6,414.4 L445.9,415.8 L443.1,417.2 L440.0,418.4 L436.8,419.5 L433.5,420.5 L430.0,421.4 L426.5,422.2 L422.8,422.9 L419.0,423.5 L415.2,423.9 L411.3,424.2 L407.4,424.4 L403.5,424.5 L399.6,424.4 L395.7,424.2 L391.8,423.9 L388.0,423.5 L384.2,422.9 L380.5,422.2 L377.0,421.4 L373.5,420.5 L370.2,419.5 L367.0,418.4 L363.9,417.2 L361.1,415.8 L358.4,414.4 L355.9,412.9 L353.6,411.3 L351.5,409.7 L349.7,408.0 L348.1,406.2 L346.7,404.4 L345.5,402.6 L344.7,400.7 L344.0,398.8 L343.6,396.8 L343.5,394.9 L343.5,378.9" fill="none" stroke="#000" stroke-width="4.1"/>
<ellipse cx="397.7" cy="379" rx="35" ry="17" fill="#fff" stroke="#000" stroke-width="4.1"/>
<path d="M372.6,388.8 L370.9,387.8 L369.4,386.7 L368.2,385.6 L367.1,384.4 L366.2,383.3 L365.6,382.0 L365.1,380.8 L364.9,379.5 L364.9,378.3 L365.2,377.0 L365.6,375.8 L366.3,374.6 L367.2,373.4 L368.3,372.2 L369.7,371.1 L371.2,370.1 L372.9,369.1 L374.7,368.2 L376.7,367.3 L378.9,366.5" fill="none" stroke="#000" stroke-width="6.5"/>
<line x1="364.8" y1="374.7" x2="364.8" y2="379.7" stroke="#000" stroke-width="2.4"/>
<line x1="369.0" y1="370.7" x2="369.0" y2="375.7" stroke="#000" stroke-width="2.4"/>
<line x1="374.3" y1="367.9" x2="374.3" y2="372.9" stroke="#000" stroke-width="2.4"/>
<line x1="425.3" y1="370.0" x2="425.3" y2="375.0" stroke="#000" stroke-width="2.4"/>
<line x1="429.4" y1="373.3" x2="429.4" y2="378.3" stroke="#000" stroke-width="2.4"/>
<line x1="431.5" y1="376.1" x2="431.5" y2="381.1" stroke="#000" stroke-width="2.4"/>
<path d="M366,384 Q400.0,378.5 430,383" fill="none" stroke="#000" stroke-width="3.8949999999999996"/>
<line x1="386.0" y1="423.5" x2="397.7" y2="411.8" stroke="#000" stroke-width="3.28"/>
<line x1="396.0" y1="27" x2="396.2" y2="40" stroke="#000" stroke-width="3.6"/><line x1="396.2" y1="40" x2="399.2" y2="222" stroke="#000" stroke-width="2.8"/><line x1="399.3" y1="229" x2="399.4" y2="231.5" stroke="#000" stroke-width="2.8"/><line x1="399.5" y1="240" x2="403.0" y2="452" stroke="#000" stroke-width="2.8"/>
<path d="M337.8,351.6 L336.1,352.4 L334.4,353.2 L332.7,354.0 L331.0,354.9 L329.4,355.7 L327.8,356.6 L326.3,357.5 L324.8,358.4 L323.3,359.3 L321.8,360.2 L320.5,361.2 L319.1,362.1 L317.8,363.1 L316.5,364.1 L315.3,365.1 L314.1,366.1 L312.9,367.2 L311.8,368.2 L310.8,369.3 L309.8,370.3 L308.8,371.4 L307.9,372.5 L307.0,373.6 L306.2,374.7 L305.4,375.8 L304.7,376.9 L304.0,378.0 L303.3,379.2 L302.8,380.3 L302.2,381.4 L301.7,382.6 L301.3,383.7 L300.9,384.9 L300.5,386.0 L300.3,387.2 L300.0,388.4 L299.8,389.5 L299.7,390.7 L299.6,391.8 L299.5,393.0" fill="none" stroke="#000" stroke-width="3.0"/>
<path d="M312.5,418.6 L315.2,420.9 L318.2,423.1 L321.4,425.2 L324.8,427.3 L328.4,429.2 L332.2,431.0 L336.2,432.7 L340.4,434.4 L344.8,435.8 L349.3,437.2 L354.0,438.5 L358.8,439.6 L363.7,440.6 L368.7,441.4 L373.9,442.1 L379.0,442.7 L384.3,443.1 L389.6,443.4 L394.9,443.6 L400.3,443.6 L405.7,443.4 L411.0,443.1 L416.4,442.7 L421.7,442.2 L426.9,441.5 L432.1,440.6 L437.2,439.6 L442.2,438.5 L447.1,437.3 L451.9,435.9 L456.5,434.5 L461.0,432.9 L465.3,431.1 L469.5,429.3 L473.5,427.4 L477.3,425.4 L480.9,423.2 L484.2,421.0 L487.4,418.7 L490.3,416.4" fill="none" stroke="#000" stroke-width="3.0"/>
<path d="M470.4,349.9 L472.1,350.7 L473.8,351.4 L475.4,352.2 L477.0,353.0 L478.6,353.9 L480.2,354.7 L481.7,355.6 L483.1,356.5 L484.5,357.3 L485.9,358.3 L487.2,359.2 L488.5,360.1 L489.8,361.1 L491.0,362.1 L492.1,363.1 L493.2,364.1 L494.3,365.1 L495.3,366.1 L496.3,367.2 L497.2,368.2 L498.1,369.3 L499.0,370.4 L499.7,371.5 L500.5,372.6 L501.2,373.7 L501.8,374.8 L502.4,375.9 L502.9,377.1 L503.4,378.2 L503.8,379.3 L504.2,380.5 L504.5,381.6 L504.8,382.8 L505.1,384.0 L505.2,385.1 L505.4,386.3 L505.4,387.5 L505.5,388.7 L505.4,389.9 L505.4,391.0" fill="none" stroke="#000" stroke-width="3.0"/>
<path d="M337.8,351.6 L322.9,355.8 L321.7,360.0 L325.8,361.5 Z" fill="#000" stroke="#000" stroke-width="1.2"/>
<path d="M470.4,349.9 L481.9,359.4 L486.0,358.0 L484.8,353.8 Z" fill="#000" stroke="#000" stroke-width="1.2"/>
<line x1="301.5" y1="331.0" x2="372.0" y2="368.0" stroke="#000" stroke-width="3.6"/>
<line x1="510.5" y1="325.5" x2="429.0" y2="369.0" stroke="#000" stroke-width="3.6"/>
<path d="M372,368 Q384,377 401.5,381.5" fill="none" stroke="#000" stroke-width="3.2"/>
<path d="M429,369 Q415,376.5 401.5,381.5" fill="none" stroke="#000" stroke-width="3.2"/>
<line x1="288.7" y1="400.0" x2="289.0" y2="412.5" stroke="#000" stroke-width="4.0"/>
<path d="M297.3,403.8 C297.8,400.6 299.5,399.8 301.0,399.8 C303.0,399.8 304.2,401.8 303.7,404.6 C303.0,407.3 300.5,408.0 297.3,412.0 L304.5,412.0" fill="none" stroke="#000" stroke-width="3.6"/>
<ellipse cx="309.7" cy="405.4" rx="2.9" ry="5.0" fill="none" stroke="#000" stroke-width="3.6"/>
<circle cx="320.3" cy="399" r="3.4" fill="#000"/>
<line x1="485.5" y1="397.5" x2="485.8" y2="408.5" stroke="#000" stroke-width="4.0"/>
<path d="M492.8,400.5 C493.3,397.3 494.8,396.5 496.2,396.5 C498.0,396.5 499.2,398.5 498.7,401.3 C498.0,404.0 496.0,404.5 492.8,408.5 L499.5,408.5" fill="none" stroke="#000" stroke-width="3.6"/>
<ellipse cx="504.7" cy="403" rx="2.7" ry="5.3" fill="none" stroke="#000" stroke-width="3.6"/>
<circle cx="515" cy="398.3" r="2.9" fill="none" stroke="#000" stroke-width="2.2"/>
</svg>
<div class="t" style="left:43.2px;top:468px;transform:scaleX(1.037)">Mistake</div>
<div class="t" style="left:358px;top:467px;transform:scaleX(1.03)">Correct</div>
<div class="t" style="left:481px;top:63.5px;transform:scaleX(1.025)">Fourth</div>
<div class="t" style="left:481px;top:161.5px;transform:scaleX(1.04)">Third</div>
<div class="t" style="left:485px;top:264px;transform:scaleX(1.016)">Second</div>
<div class="t" style="left:527px;top:370px;transform:scaleX(1.04)">First</div>
</body></html>
